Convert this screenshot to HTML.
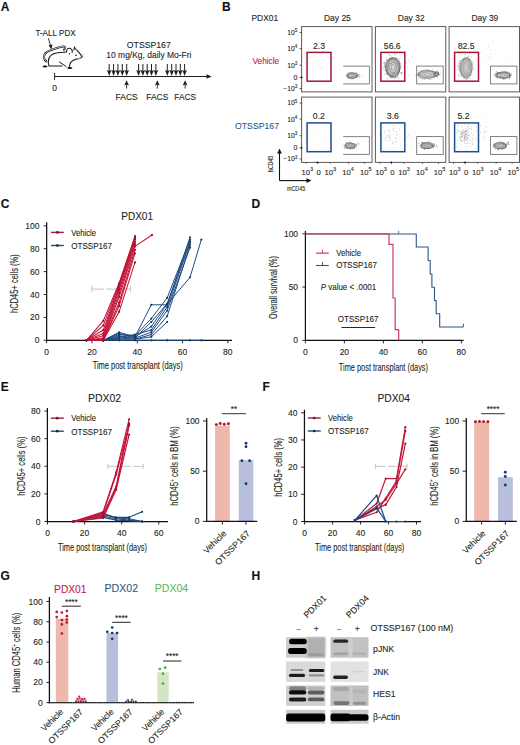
<!DOCTYPE html>
<html><head><meta charset="utf-8"><style>
html,body{margin:0;padding:0;background:#fff;}
svg{display:block;font-family:"Liberation Sans",sans-serif;}
text{stroke-width:0.1px;}
</style></head><body>
<svg width="520" height="745" viewBox="0 0 520 745" fill="#231f20">
<defs><radialGradient id="g0"><stop offset="0" stop-color="#ddd"/><stop offset="0.75" stop-color="#aaa"/><stop offset="1" stop-color="#555"/></radialGradient><radialGradient id="g1"><stop offset="0" stop-color="#dcdcdc"/><stop offset="0.75" stop-color="#a8a8a8"/><stop offset="1" stop-color="#5a5a5a"/></radialGradient><radialGradient id="g2"><stop offset="0" stop-color="#d8d8d8"/><stop offset="0.75" stop-color="#b4b4b4"/><stop offset="1" stop-color="#777"/></radialGradient><radialGradient id="g3"><stop offset="0" stop-color="#ccc"/><stop offset="0.75" stop-color="#999"/><stop offset="1" stop-color="#555"/></radialGradient><radialGradient id="g4"><stop offset="0" stop-color="#d8d8d8"/><stop offset="0.75" stop-color="#aaa"/><stop offset="1" stop-color="#888"/></radialGradient><radialGradient id="g5"><stop offset="0" stop-color="#e0e0e0"/><stop offset="0.75" stop-color="#bbb"/><stop offset="1" stop-color="#444"/></radialGradient><radialGradient id="g6"><stop offset="0" stop-color="#d4d4d4"/><stop offset="0.75" stop-color="#aaa"/><stop offset="1" stop-color="#555"/></radialGradient><radialGradient id="g7"><stop offset="0" stop-color="#d4d4d4"/><stop offset="0.75" stop-color="#aaa"/><stop offset="1" stop-color="#555"/></radialGradient><radialGradient id="g8"><stop offset="0" stop-color="#d8d8d8"/><stop offset="0.75" stop-color="#aaa"/><stop offset="1" stop-color="#555"/></radialGradient><filter id="bl" x="-20%" y="-60%" width="140%" height="220%"><feGaussianBlur stdDeviation="0.75"/></filter><filter id="bl2" x="-20%" y="-20%" width="140%" height="140%"><feGaussianBlur stdDeviation="0.8"/></filter></defs>
<rect width="520" height="745" fill="#fff"/>
<text x="0.80" y="11.00" font-size="12" fill="#111" font-weight="bold" stroke="#111">A</text>
<text x="35.40" y="35.70" font-size="8.8" textLength="40.40" lengthAdjust="spacingAndGlyphs" stroke="#231f20">T-ALL PDX</text>
<line x1="48.40" y1="38.20" x2="50.60" y2="46.20" stroke="#231f20" stroke-width="0.9"/>
<path d="M48.6,45.2 L51.3,49.6 L52.6,44.4 Z" fill="#231f20"/>
<path d="M64.0,49.6 C65.6,48.6 65.6,46.6 63.4,46.5 C60.4,46.4 57.4,48.0 53.5,49.2 C49.5,50.4 46.2,51.6 44.8,54.0 C43.5,56.4 44.0,59.6 46.4,61.4" fill="none" stroke="#1a1a1a" stroke-width="2.1" stroke-linecap="round"/>
<path d="M64.0,49.6 C65.6,48.6 65.6,46.6 63.4,46.5 C60.4,46.4 57.4,48.0 53.5,49.2 C49.5,50.4 46.2,51.6 44.8,54.0 C43.5,56.4 44.0,59.6 46.4,61.4" fill="none" stroke="#e4e4e4" stroke-width="0.8" stroke-linecap="round"/>
<path d="M48.6,59.6 C49.6,55.6 53.0,53.2 57.6,52.8 C61.2,52.5 64.2,52.3 66.6,52.0" fill="none" stroke="#1a1a1a" stroke-width="1.05"/>
<path d="M48.7,58.6 C48.1,61.5 48.3,64.2 49.0,66.0 L62.6,66.0" fill="none" stroke="#1a1a1a" stroke-width="1.05"/>
<path d="M66.6,52.4 C66.0,49.8 67.8,48.0 69.8,48.3 C71.6,48.7 72.6,50.6 72.1,52.8 M69.4,54.4 L69.6,53.2" fill="none" stroke="#1a1a1a" stroke-width="1.05"/>
<path d="M72.2,50.8 L73.6,49.9" fill="none" stroke="#1a1a1a" stroke-width="0.9"/>
<path d="M73.4,50.0 L74.4,46.0 L76.6,49.6 Z" fill="#1a1a1a"/>
<path d="M74.4,48.6 L75.4,48.6 L75.6,49.4 L74.2,49.4 Z" fill="#aaa"/>
<path d="M76.4,49.6 C78.6,51.8 80.8,54.6 82.2,56.8 C81.2,58.2 79.8,58.8 78.2,58.7 C75.6,59.0 72.6,60.0 70.8,62.4 C69.8,63.8 69.4,65.6 69.3,67.2" fill="none" stroke="#1a1a1a" stroke-width="1.05"/>
<path d="M76.6,58.2 L80.0,57.8 L79.4,59.0 Z" fill="#999"/>
<circle cx="76.00" cy="55.20" r="0.8" fill="#111"/>
<path d="M59.0,61.8 C61.6,63.4 64.2,65.2 66.4,66.6" fill="none" stroke="#1a1a1a" stroke-width="1.0"/>
<path d="M42.6,66.6 C43.0,65.2 46.6,65.2 47.4,66.4 C47.0,67.8 43.3,67.9 42.6,66.6 Z" fill="#111"/>
<path d="M67.2,68.0 C68.0,66.5 71.6,66.8 72.4,68.0 C71.6,69.4 68.0,69.4 67.2,68.0 Z" fill="#111"/>
<path d="M80.4,55.4 L83.8,54.6 M80.4,56.6 L83.8,57.4" fill="none" stroke="#777" stroke-width="0.4"/>
<line x1="54.60" y1="76.50" x2="208.00" y2="76.50" stroke="#231f20" stroke-width="1"/>
<path d="M206.5,74.2 L211.6,76.5 L206.5,78.8 Z" fill="#231f20"/>
<line x1="54.60" y1="73.00" x2="54.60" y2="79.80" stroke="#231f20" stroke-width="1"/>
<text x="54.60" y="90.80" font-size="8.6" text-anchor="middle" stroke="#231f20">0</text>
<text x="148.80" y="47.50" font-size="8.8" text-anchor="middle" textLength="44.00" lengthAdjust="spacingAndGlyphs" stroke="#231f20">OTSSP167</text>
<text x="148.90" y="58.30" font-size="8.8" text-anchor="middle" textLength="85.20" lengthAdjust="spacingAndGlyphs" stroke="#231f20">10 mg/Kg, daily Mo-Fri</text>
<line x1="109.20" y1="64.00" x2="109.20" y2="72.00" stroke="#231f20" stroke-width="1.0"/>
<path d="M106.90,70.0 L109.20,71.0 L111.50,70.0 L109.20,76.0 Z" fill="#231f20"/>
<line x1="113.60" y1="64.00" x2="113.60" y2="72.00" stroke="#231f20" stroke-width="1.0"/>
<path d="M111.30,70.0 L113.60,71.0 L115.90,70.0 L113.60,76.0 Z" fill="#231f20"/>
<line x1="117.90" y1="64.00" x2="117.90" y2="72.00" stroke="#231f20" stroke-width="1.0"/>
<path d="M115.60,70.0 L117.90,71.0 L120.20,70.0 L117.90,76.0 Z" fill="#231f20"/>
<line x1="122.30" y1="64.00" x2="122.30" y2="72.00" stroke="#231f20" stroke-width="1.0"/>
<path d="M120.00,70.0 L122.30,71.0 L124.60,70.0 L122.30,76.0 Z" fill="#231f20"/>
<line x1="126.70" y1="64.00" x2="126.70" y2="72.00" stroke="#231f20" stroke-width="1.0"/>
<path d="M124.40,70.0 L126.70,71.0 L129.00,70.0 L126.70,76.0 Z" fill="#231f20"/>
<line x1="138.60" y1="64.00" x2="138.60" y2="72.00" stroke="#231f20" stroke-width="1.0"/>
<path d="M136.30,70.0 L138.60,71.0 L140.90,70.0 L138.60,76.0 Z" fill="#231f20"/>
<line x1="142.90" y1="64.00" x2="142.90" y2="72.00" stroke="#231f20" stroke-width="1.0"/>
<path d="M140.60,70.0 L142.90,71.0 L145.20,70.0 L142.90,76.0 Z" fill="#231f20"/>
<line x1="147.20" y1="64.00" x2="147.20" y2="72.00" stroke="#231f20" stroke-width="1.0"/>
<path d="M144.90,70.0 L147.20,71.0 L149.50,70.0 L147.20,76.0 Z" fill="#231f20"/>
<line x1="151.50" y1="64.00" x2="151.50" y2="72.00" stroke="#231f20" stroke-width="1.0"/>
<path d="M149.20,70.0 L151.50,71.0 L153.80,70.0 L151.50,76.0 Z" fill="#231f20"/>
<line x1="155.90" y1="64.00" x2="155.90" y2="72.00" stroke="#231f20" stroke-width="1.0"/>
<path d="M153.60,70.0 L155.90,71.0 L158.20,70.0 L155.90,76.0 Z" fill="#231f20"/>
<line x1="167.30" y1="64.00" x2="167.30" y2="72.00" stroke="#231f20" stroke-width="1.0"/>
<path d="M165.00,70.0 L167.30,71.0 L169.60,70.0 L167.30,76.0 Z" fill="#231f20"/>
<line x1="171.70" y1="64.00" x2="171.70" y2="72.00" stroke="#231f20" stroke-width="1.0"/>
<path d="M169.40,70.0 L171.70,71.0 L174.00,70.0 L171.70,76.0 Z" fill="#231f20"/>
<line x1="176.00" y1="64.00" x2="176.00" y2="72.00" stroke="#231f20" stroke-width="1.0"/>
<path d="M173.70,70.0 L176.00,71.0 L178.30,70.0 L176.00,76.0 Z" fill="#231f20"/>
<line x1="180.30" y1="64.00" x2="180.30" y2="72.00" stroke="#231f20" stroke-width="1.0"/>
<path d="M178.00,70.0 L180.30,71.0 L182.60,70.0 L180.30,76.0 Z" fill="#231f20"/>
<line x1="184.60" y1="64.00" x2="184.60" y2="72.00" stroke="#231f20" stroke-width="1.0"/>
<path d="M182.30,70.0 L184.60,71.0 L186.90,70.0 L184.60,76.0 Z" fill="#231f20"/>
<line x1="126.60" y1="83.00" x2="126.60" y2="88.60" stroke="#231f20" stroke-width="0.9"/>
<path d="M124.20,85.6 L126.60,80.2 L129.00,85.6 L126.60,84.4 Z" fill="#231f20"/>
<line x1="157.30" y1="83.00" x2="157.30" y2="88.60" stroke="#231f20" stroke-width="0.9"/>
<path d="M154.90,85.6 L157.30,80.2 L159.70,85.6 L157.30,84.4 Z" fill="#231f20"/>
<line x1="185.10" y1="83.00" x2="185.10" y2="88.60" stroke="#231f20" stroke-width="0.9"/>
<path d="M182.70,85.6 L185.10,80.2 L187.50,85.6 L185.10,84.4 Z" fill="#231f20"/>
<text x="115.50" y="99.50" font-size="8.8" textLength="22.20" lengthAdjust="spacingAndGlyphs" stroke="#231f20">FACS</text>
<text x="146.20" y="99.50" font-size="8.8" textLength="22.20" lengthAdjust="spacingAndGlyphs" stroke="#231f20">FACS</text>
<text x="174.30" y="99.50" font-size="8.8" textLength="21.80" lengthAdjust="spacingAndGlyphs" stroke="#231f20">FACS</text>
<text x="222.00" y="10.80" font-size="12" fill="#111" font-weight="bold" stroke="#111">B</text>
<text x="251.50" y="20.50" font-size="8.6" textLength="26.70" lengthAdjust="spacingAndGlyphs" stroke="#231f20">PDX01</text>
<text x="337.40" y="20.50" font-size="8.7" text-anchor="middle" textLength="26.80" lengthAdjust="spacingAndGlyphs" stroke="#231f20">Day 25</text>
<text x="411.20" y="20.50" font-size="8.7" text-anchor="middle" textLength="26.80" lengthAdjust="spacingAndGlyphs" stroke="#231f20">Day 32</text>
<text x="484.90" y="20.50" font-size="8.7" text-anchor="middle" textLength="26.80" lengthAdjust="spacingAndGlyphs" stroke="#231f20">Day 39</text>
<text x="252.50" y="63.80" font-size="8.6" fill="#c0223f" textLength="26.70" lengthAdjust="spacingAndGlyphs" stroke="#c0223f">Vehicle</text>
<text x="235.00" y="129.00" font-size="8.6" fill="#2b5a8e" textLength="44.00" lengthAdjust="spacingAndGlyphs" stroke="#2b5a8e">OTSSP167</text>
<text x="297.40" y="34.90" font-size="6.8" text-anchor="end" stroke="#231f20">10<tspan dy="-2.7" font-size="4.60">5</tspan></text>
<text x="297.40" y="51.00" font-size="6.8" text-anchor="end" stroke="#231f20">10<tspan dy="-2.7" font-size="4.60">4</tspan></text>
<text x="297.40" y="67.60" font-size="6.8" text-anchor="end" stroke="#231f20">10<tspan dy="-2.7" font-size="4.60">3</tspan></text>
<text x="297.30" y="79.80" font-size="7.0" text-anchor="end" stroke="#231f20">0</text>
<text x="297.40" y="90.90" font-size="6.8" text-anchor="end" stroke="#231f20">−10<tspan dy="-2.7" font-size="4.60">3</tspan></text>
<rect x="301.60" y="26.60" width="70.40" height="65.30" fill="white" stroke="#5a5a5a" stroke-width="1.0"/>
<line x1="299.60" y1="32.50" x2="301.60" y2="32.50" stroke="#333" stroke-width="0.8"/>
<line x1="299.60" y1="48.60" x2="301.60" y2="48.60" stroke="#333" stroke-width="0.8"/>
<line x1="299.60" y1="65.20" x2="301.60" y2="65.20" stroke="#333" stroke-width="0.8"/>
<line x1="299.60" y1="77.30" x2="301.60" y2="77.30" stroke="#333" stroke-width="0.8"/>
<line x1="299.60" y1="88.50" x2="301.60" y2="88.50" stroke="#333" stroke-width="0.8"/>
<rect x="307.10" y="52.40" width="23.90" height="28.80" fill="none" stroke="#a6143a" stroke-width="1.5"/>
<polyline points="343.20,66.10 369.40,66.10 369.40,83.90 343.20,83.90" fill="none" stroke="#6d6d6d" stroke-width="0.85" stroke-linejoin="round"/>
<text x="312.90" y="48.70" font-size="8.7" stroke="#231f20">2.3</text>
<circle cx="317.83" cy="68.67" r="0.35" fill="#d0a8b0"/>
<circle cx="317.92" cy="63.71" r="0.35" fill="#d0a8b0"/>
<circle cx="315.81" cy="64.32" r="0.35" fill="#d0a8b0"/>
<circle cx="321.94" cy="68.14" r="0.35" fill="#d0a8b0"/>
<circle cx="321.71" cy="67.09" r="0.35" fill="#d0a8b0"/>
<circle cx="319.78" cy="66.71" r="0.35" fill="#d0a8b0"/>
<circle cx="313.60" cy="70.73" r="0.35" fill="#d0a8b0"/>
<circle cx="320.12" cy="68.59" r="0.35" fill="#d0a8b0"/>
<circle cx="313.53" cy="55.14" r="0.35" fill="#d0a8b0"/>
<circle cx="315.93" cy="62.79" r="0.35" fill="#d0a8b0"/>
<circle cx="319.52" cy="65.32" r="0.35" fill="#d0a8b0"/>
<circle cx="320.16" cy="61.75" r="0.35" fill="#d0a8b0"/>
<ellipse cx="352.10" cy="75.60" rx="5.50" ry="3.00" fill="url(#g0)" opacity="0.85"/>
<path d="M353.97,75.60 L353.99,75.88 L353.87,76.16 L353.31,76.26 L352.96,76.41 L352.54,76.49 L352.10,76.52 L351.62,76.58 L351.18,76.47 L350.77,76.33 L350.49,76.11 L350.30,75.86 L350.43,75.60 L350.56,75.37 L350.59,75.12 L350.80,74.89 L351.14,74.69 L351.56,74.49 L352.10,74.51 L352.55,74.69 L352.96,74.79 L353.27,74.96 L353.69,75.10 L353.96,75.33 L354.02,75.60Z" fill="none" stroke="#555" stroke-width="0.4"/>
<path d="M355.50,75.60 L355.81,76.14 L355.72,76.74 L354.75,77.05 L353.95,77.35 L352.92,77.27 L352.10,77.46 L351.19,77.46 L350.27,77.33 L349.19,77.19 L348.70,76.67 L348.17,76.17 L348.33,75.60 L348.73,75.11 L349.26,74.71 L349.57,74.22 L350.16,73.77 L351.10,73.56 L352.10,73.35 L353.06,73.65 L354.02,73.79 L354.60,74.24 L355.21,74.62 L355.54,75.10 L355.59,75.60Z" fill="none" stroke="#555" stroke-width="0.4"/>
<path d="M358.11,75.60 L356.97,76.31 L356.48,76.98 L355.39,77.40 L354.50,77.87 L353.43,78.31 L352.10,78.95 L350.62,78.62 L349.28,78.26 L348.30,77.67 L347.41,77.08 L347.67,76.25 L347.01,75.60 L346.71,74.81 L346.69,73.90 L347.62,73.16 L349.01,72.68 L350.74,72.82 L352.10,72.87 L353.35,73.06 L354.84,73.01 L356.30,73.31 L356.96,74.07 L357.67,74.79 L357.73,75.60Z" fill="none" stroke="#555" stroke-width="0.4"/>
<circle cx="352.73" cy="78.86" r="0.35" fill="#666"/>
<circle cx="347.53" cy="74.04" r="0.35" fill="#666"/>
<circle cx="357.93" cy="75.68" r="0.35" fill="#666"/>
<circle cx="347.85" cy="78.09" r="0.35" fill="#666"/>
<circle cx="358.39" cy="74.56" r="0.35" fill="#666"/>
<circle cx="345.76" cy="75.26" r="0.35" fill="#666"/>
<circle cx="349.94" cy="73.25" r="0.35" fill="#666"/>
<circle cx="357.61" cy="73.40" r="0.35" fill="#666"/>
<circle cx="356.94" cy="72.94" r="0.35" fill="#666"/>
<circle cx="347.60" cy="77.57" r="0.35" fill="#666"/>
<circle cx="357.21" cy="77.72" r="0.35" fill="#666"/>
<circle cx="356.59" cy="76.61" r="0.35" fill="#666"/>
<circle cx="353.41" cy="78.30" r="0.35" fill="#666"/>
<circle cx="349.52" cy="77.82" r="0.35" fill="#666"/>
<circle cx="357.19" cy="75.60" r="0.35" fill="#666"/>
<circle cx="356.66" cy="77.44" r="0.35" fill="#666"/>
<circle cx="359.09" cy="76.22" r="0.35" fill="#666"/>
<circle cx="348.27" cy="73.78" r="0.35" fill="#666"/>
<circle cx="352.02" cy="78.67" r="0.35" fill="#666"/>
<circle cx="348.80" cy="77.66" r="0.35" fill="#666"/>
<circle cx="356.41" cy="72.32" r="0.35" fill="#666"/>
<circle cx="346.23" cy="76.29" r="0.35" fill="#666"/>
<circle cx="356.35" cy="76.99" r="0.35" fill="#666"/>
<circle cx="349.13" cy="78.06" r="0.35" fill="#666"/>
<circle cx="354.53" cy="73.14" r="0.35" fill="#666"/>
<circle cx="361.52" cy="75.96" r="0.35" fill="#555"/>
<circle cx="357.93" cy="75.50" r="0.35" fill="#555"/>
<circle cx="358.33" cy="75.54" r="0.35" fill="#555"/>
<circle cx="355.33" cy="75.11" r="0.35" fill="#555"/>
<circle cx="359.81" cy="74.43" r="0.35" fill="#555"/>
<circle cx="358.52" cy="76.55" r="0.35" fill="#555"/>
<circle cx="359.63" cy="77.09" r="0.35" fill="#555"/>
<circle cx="356.56" cy="75.25" r="0.35" fill="#555"/>
<circle cx="301.60" cy="77.40" r="0.9" fill="#111"/>
<rect x="375.40" y="26.60" width="70.40" height="65.30" fill="white" stroke="#5a5a5a" stroke-width="1.0"/>
<rect x="380.90" y="52.40" width="23.90" height="28.80" fill="none" stroke="#a6143a" stroke-width="1.5"/>
<rect x="416.70" y="66.10" width="26.50" height="17.80" fill="none" stroke="#6d6d6d" stroke-width="0.85"/>
<text x="383.80" y="48.70" font-size="8.7" stroke="#231f20">56.6</text>
<ellipse cx="392.80" cy="67.40" rx="7.60" ry="10.20" fill="url(#g1)" opacity="0.85"/>
<path d="M394.78,67.40 L394.78,68.11 L394.49,68.71 L394.09,69.13 L393.71,69.52 L393.30,69.92 L392.80,70.17 L392.28,69.99 L391.76,69.81 L391.45,69.21 L391.36,68.52 L391.28,67.95 L391.13,67.40 L391.09,66.78 L391.03,66.02 L391.23,65.29 L391.77,65.02 L392.26,64.70 L392.80,64.77 L393.28,64.99 L393.65,65.43 L394.05,65.73 L394.45,66.12 L394.72,66.71 L394.78,67.40Z" fill="none" stroke="#5a5a5a" stroke-width="0.4"/>
<path d="M396.58,67.40 L396.30,68.66 L395.85,69.76 L395.55,71.09 L394.92,72.34 L393.82,72.49 L392.80,72.99 L391.75,72.65 L390.95,71.71 L390.27,70.79 L389.76,69.76 L389.32,68.65 L388.56,67.40 L388.86,65.98 L389.12,64.55 L389.91,63.52 L391.06,63.37 L391.93,63.04 L392.80,62.30 L393.82,62.30 L394.73,62.91 L395.60,63.65 L396.14,64.81 L396.71,65.99 L396.52,67.40Z" fill="none" stroke="#5a5a5a" stroke-width="0.4"/>
<path d="M399.25,67.40 L399.27,69.73 L398.16,71.55 L396.68,72.61 L395.45,73.55 L394.04,73.62 L392.80,73.99 L391.19,75.44 L389.66,74.71 L388.35,73.37 L387.22,71.72 L387.43,69.33 L387.21,67.40 L387.55,65.51 L388.39,63.98 L388.88,62.13 L389.82,60.47 L391.24,59.58 L392.80,59.18 L394.20,60.39 L395.39,61.39 L396.19,62.85 L397.76,63.56 L398.25,65.44 L398.91,67.40Z" fill="none" stroke="#5a5a5a" stroke-width="0.4"/>
<path d="M400.51,67.40 L399.34,69.75 L399.25,72.40 L398.04,74.43 L396.81,76.72 L394.96,78.24 L392.80,77.70 L390.80,77.41 L389.38,75.35 L388.37,73.34 L386.47,72.30 L386.04,69.83 L384.85,67.40 L384.49,64.41 L385.59,61.81 L387.44,60.20 L389.18,58.98 L391.01,58.41 L392.80,57.62 L394.59,58.43 L396.83,58.04 L398.48,59.78 L399.72,62.04 L400.65,64.58 L400.03,67.40Z" fill="none" stroke="#5a5a5a" stroke-width="0.4"/>
<circle cx="384.15" cy="62.66" r="0.35" fill="#555"/>
<circle cx="399.74" cy="61.69" r="0.35" fill="#555"/>
<circle cx="386.43" cy="60.09" r="0.35" fill="#555"/>
<circle cx="383.73" cy="66.47" r="0.35" fill="#555"/>
<circle cx="384.69" cy="70.76" r="0.35" fill="#555"/>
<circle cx="382.86" cy="69.25" r="0.35" fill="#555"/>
<circle cx="389.73" cy="54.92" r="0.35" fill="#555"/>
<circle cx="399.76" cy="63.85" r="0.35" fill="#555"/>
<circle cx="383.45" cy="62.48" r="0.35" fill="#555"/>
<circle cx="396.54" cy="59.49" r="0.35" fill="#555"/>
<circle cx="398.68" cy="74.96" r="0.35" fill="#555"/>
<circle cx="399.42" cy="71.76" r="0.35" fill="#555"/>
<circle cx="400.87" cy="72.76" r="0.35" fill="#555"/>
<circle cx="394.89" cy="54.46" r="0.35" fill="#555"/>
<circle cx="397.99" cy="77.57" r="0.35" fill="#555"/>
<circle cx="389.06" cy="59.46" r="0.35" fill="#555"/>
<circle cx="400.31" cy="58.27" r="0.35" fill="#555"/>
<circle cx="394.71" cy="80.68" r="0.35" fill="#555"/>
<circle cx="386.13" cy="74.06" r="0.35" fill="#555"/>
<circle cx="402.40" cy="66.58" r="0.35" fill="#555"/>
<circle cx="397.08" cy="76.63" r="0.35" fill="#555"/>
<circle cx="385.09" cy="66.38" r="0.35" fill="#555"/>
<circle cx="395.36" cy="77.10" r="0.35" fill="#555"/>
<circle cx="391.66" cy="58.76" r="0.35" fill="#555"/>
<circle cx="385.13" cy="63.76" r="0.35" fill="#555"/>
<circle cx="400.47" cy="68.57" r="0.35" fill="#555"/>
<circle cx="386.82" cy="59.48" r="0.35" fill="#555"/>
<circle cx="402.18" cy="72.78" r="0.35" fill="#555"/>
<circle cx="395.22" cy="54.17" r="0.35" fill="#555"/>
<circle cx="398.71" cy="73.53" r="0.35" fill="#555"/>
<circle cx="401.93" cy="70.51" r="0.35" fill="#555"/>
<circle cx="391.91" cy="76.65" r="0.35" fill="#555"/>
<circle cx="384.04" cy="73.65" r="0.35" fill="#555"/>
<circle cx="395.93" cy="58.33" r="0.35" fill="#555"/>
<circle cx="398.68" cy="78.18" r="0.35" fill="#555"/>
<circle cx="384.56" cy="62.15" r="0.35" fill="#555"/>
<circle cx="398.45" cy="72.18" r="0.35" fill="#555"/>
<circle cx="389.74" cy="57.37" r="0.35" fill="#555"/>
<circle cx="401.81" cy="73.31" r="0.35" fill="#555"/>
<circle cx="386.49" cy="57.86" r="0.35" fill="#555"/>
<circle cx="401.20" cy="73.95" r="0.35" fill="#555"/>
<circle cx="401.70" cy="72.71" r="0.35" fill="#555"/>
<circle cx="385.38" cy="70.38" r="0.35" fill="#555"/>
<circle cx="383.37" cy="63.02" r="0.35" fill="#555"/>
<circle cx="392.02" cy="76.67" r="0.35" fill="#555"/>
<circle cx="385.54" cy="65.74" r="0.35" fill="#555"/>
<circle cx="398.27" cy="73.43" r="0.35" fill="#555"/>
<circle cx="399.67" cy="70.42" r="0.35" fill="#555"/>
<circle cx="389.91" cy="76.86" r="0.35" fill="#555"/>
<circle cx="393.25" cy="57.27" r="0.35" fill="#555"/>
<circle cx="385.66" cy="67.39" r="0.35" fill="#555"/>
<circle cx="389.06" cy="74.58" r="0.35" fill="#555"/>
<circle cx="392.78" cy="76.15" r="0.35" fill="#555"/>
<circle cx="391.89" cy="55.98" r="0.35" fill="#555"/>
<circle cx="395.87" cy="77.70" r="0.35" fill="#555"/>
<circle cx="399.09" cy="63.72" r="0.35" fill="#555"/>
<circle cx="396.20" cy="57.53" r="0.35" fill="#555"/>
<circle cx="383.17" cy="67.81" r="0.35" fill="#555"/>
<circle cx="386.24" cy="74.40" r="0.35" fill="#555"/>
<circle cx="388.91" cy="54.75" r="0.35" fill="#555"/>
<circle cx="387.51" cy="78.19" r="0.35" fill="#555"/>
<circle cx="390.42" cy="55.92" r="0.35" fill="#555"/>
<circle cx="386.37" cy="73.29" r="0.35" fill="#555"/>
<circle cx="399.35" cy="70.53" r="0.35" fill="#555"/>
<circle cx="401.17" cy="72.75" r="0.35" fill="#555"/>
<circle cx="392.55" cy="76.90" r="0.35" fill="#555"/>
<circle cx="401.13" cy="73.96" r="0.35" fill="#555"/>
<circle cx="398.99" cy="58.61" r="0.35" fill="#555"/>
<circle cx="391.33" cy="77.11" r="0.35" fill="#555"/>
<circle cx="390.61" cy="78.01" r="0.35" fill="#555"/>
<ellipse cx="427.40" cy="74.40" rx="10.00" ry="4.10" fill="url(#g2)" opacity="0.85"/>
<path d="M430.98,74.40 L430.81,74.77 L430.66,75.17 L429.89,75.42 L428.94,75.49 L428.14,75.54 L427.40,75.79 L426.55,75.71 L425.63,75.66 L425.00,75.38 L424.41,75.11 L424.26,74.75 L424.34,74.40 L424.65,74.10 L424.67,73.75 L425.18,73.49 L425.66,73.16 L426.51,73.04 L427.40,72.98 L428.18,73.20 L428.80,73.41 L429.45,73.56 L430.00,73.78 L430.73,74.03 L431.03,74.40Z" fill="none" stroke="#777" stroke-width="0.4"/>
<path d="M433.57,74.40 L433.61,75.08 L433.52,75.85 L432.36,76.44 L430.97,76.94 L429.38,77.43 L427.40,76.98 L425.73,76.95 L424.32,76.58 L423.36,76.06 L421.32,75.84 L420.10,75.20 L419.93,74.40 L420.26,73.62 L421.34,72.97 L423.29,72.72 L424.39,72.26 L425.80,71.94 L427.40,71.52 L429.33,71.44 L431.24,71.67 L432.51,72.30 L433.54,72.95 L433.57,73.72 L433.61,74.40Z" fill="none" stroke="#777" stroke-width="0.4"/>
<path d="M437.64,74.40 L437.26,75.48 L435.98,76.43 L433.59,76.94 L432.17,77.79 L429.81,78.08 L427.40,78.53 L424.60,78.68 L421.76,78.41 L419.78,77.52 L419.32,76.31 L417.87,75.45 L417.99,74.40 L418.50,73.42 L418.80,72.36 L419.72,71.25 L422.25,70.74 L424.51,69.98 L427.40,70.41 L429.65,70.95 L431.72,71.33 L434.17,71.62 L435.54,72.47 L438.02,73.23 L439.15,74.40Z" fill="none" stroke="#777" stroke-width="0.4"/>
<circle cx="416.99" cy="74.56" r="0.35" fill="#666"/>
<circle cx="415.59" cy="75.04" r="0.35" fill="#666"/>
<circle cx="428.63" cy="69.68" r="0.35" fill="#666"/>
<circle cx="421.85" cy="71.55" r="0.35" fill="#666"/>
<circle cx="433.27" cy="77.60" r="0.35" fill="#666"/>
<circle cx="426.97" cy="70.29" r="0.35" fill="#666"/>
<circle cx="419.60" cy="72.95" r="0.35" fill="#666"/>
<circle cx="436.54" cy="75.90" r="0.35" fill="#666"/>
<circle cx="421.77" cy="70.07" r="0.35" fill="#666"/>
<circle cx="422.92" cy="70.76" r="0.35" fill="#666"/>
<circle cx="416.64" cy="73.94" r="0.35" fill="#666"/>
<circle cx="418.51" cy="75.18" r="0.35" fill="#666"/>
<circle cx="434.85" cy="71.99" r="0.35" fill="#666"/>
<circle cx="440.46" cy="73.66" r="0.35" fill="#666"/>
<circle cx="438.13" cy="74.89" r="0.35" fill="#666"/>
<circle cx="433.07" cy="69.45" r="0.35" fill="#666"/>
<circle cx="418.05" cy="75.66" r="0.35" fill="#666"/>
<circle cx="430.70" cy="79.65" r="0.35" fill="#666"/>
<circle cx="430.19" cy="78.94" r="0.35" fill="#666"/>
<circle cx="434.39" cy="77.94" r="0.35" fill="#666"/>
<circle cx="436.16" cy="73.30" r="0.35" fill="#666"/>
<circle cx="432.12" cy="70.31" r="0.35" fill="#666"/>
<circle cx="436.51" cy="71.19" r="0.35" fill="#666"/>
<circle cx="428.92" cy="79.69" r="0.35" fill="#666"/>
<circle cx="418.81" cy="74.71" r="0.35" fill="#666"/>
<circle cx="438.36" cy="74.50" r="0.35" fill="#666"/>
<circle cx="417.87" cy="75.65" r="0.35" fill="#666"/>
<circle cx="433.88" cy="77.64" r="0.35" fill="#666"/>
<circle cx="422.28" cy="79.17" r="0.35" fill="#666"/>
<circle cx="439.65" cy="74.45" r="0.35" fill="#666"/>
<circle cx="432.23" cy="71.24" r="0.35" fill="#666"/>
<circle cx="438.20" cy="72.19" r="0.35" fill="#666"/>
<circle cx="435.51" cy="72.03" r="0.35" fill="#666"/>
<circle cx="420.13" cy="77.49" r="0.35" fill="#666"/>
<circle cx="438.85" cy="74.36" r="0.35" fill="#666"/>
<circle cx="420.58" cy="77.75" r="0.35" fill="#666"/>
<circle cx="426.02" cy="77.94" r="0.35" fill="#666"/>
<circle cx="437.57" cy="77.50" r="0.35" fill="#666"/>
<circle cx="424.47" cy="79.67" r="0.35" fill="#666"/>
<circle cx="427.44" cy="78.43" r="0.35" fill="#666"/>
<circle cx="417.97" cy="74.13" r="0.35" fill="#666"/>
<circle cx="418.11" cy="78.29" r="0.35" fill="#666"/>
<circle cx="436.78" cy="70.98" r="0.35" fill="#666"/>
<circle cx="418.51" cy="70.47" r="0.35" fill="#666"/>
<circle cx="437.87" cy="72.72" r="0.35" fill="#666"/>
<circle cx="425.74" cy="70.88" r="0.35" fill="#666"/>
<circle cx="426.21" cy="70.02" r="0.35" fill="#666"/>
<circle cx="427.60" cy="69.59" r="0.35" fill="#666"/>
<circle cx="425.43" cy="77.89" r="0.35" fill="#666"/>
<circle cx="435.59" cy="72.74" r="0.35" fill="#666"/>
<ellipse cx="436.40" cy="74.10" rx="2.30" ry="2.30" fill="url(#g3)" opacity="0.85"/>
<path d="M437.54,74.10 L437.41,74.37 L437.34,74.64 L437.21,74.91 L436.94,75.04 L436.72,75.30 L436.40,75.33 L436.08,75.31 L435.82,75.10 L435.68,74.82 L435.56,74.59 L435.43,74.36 L435.20,74.10 L435.23,73.79 L435.35,73.49 L435.47,73.17 L435.77,73.01 L436.12,73.06 L436.40,73.13 L436.66,73.13 L436.93,73.19 L437.24,73.26 L437.43,73.51 L437.56,73.79 L437.53,74.10Z" fill="none" stroke="#555" stroke-width="0.4"/>
<path d="M438.75,74.10 L438.50,74.66 L438.18,75.13 L437.95,75.65 L437.60,76.18 L437.04,76.49 L436.40,76.55 L435.83,76.24 L435.34,75.94 L434.80,75.70 L434.71,75.08 L434.25,74.68 L433.96,74.10 L433.84,73.41 L434.32,72.90 L434.78,72.48 L435.34,72.27 L435.87,72.12 L436.40,72.03 L437.02,71.79 L437.66,71.91 L438.28,72.22 L438.42,72.93 L438.53,73.53 L438.68,74.10Z" fill="none" stroke="#555" stroke-width="0.4"/>
<circle cx="438.38" cy="72.58" r="0.35" fill="#555"/>
<circle cx="434.73" cy="73.08" r="0.35" fill="#555"/>
<circle cx="434.05" cy="76.00" r="0.35" fill="#555"/>
<circle cx="437.74" cy="71.49" r="0.35" fill="#555"/>
<circle cx="438.61" cy="73.71" r="0.35" fill="#555"/>
<circle cx="438.05" cy="75.45" r="0.35" fill="#555"/>
<circle cx="433.69" cy="73.72" r="0.35" fill="#555"/>
<circle cx="439.00" cy="73.10" r="0.35" fill="#555"/>
<circle cx="434.70" cy="71.83" r="0.35" fill="#555"/>
<circle cx="433.90" cy="74.79" r="0.35" fill="#555"/>
<circle cx="413.48" cy="62.61" r="0.35" fill="#aaa"/>
<circle cx="409.14" cy="75.24" r="0.35" fill="#aaa"/>
<circle cx="406.84" cy="54.88" r="0.35" fill="#aaa"/>
<circle cx="409.99" cy="63.44" r="0.35" fill="#aaa"/>
<circle cx="405.36" cy="51.41" r="0.35" fill="#aaa"/>
<circle cx="409.27" cy="61.33" r="0.35" fill="#aaa"/>
<circle cx="404.48" cy="58.18" r="0.35" fill="#aaa"/>
<circle cx="406.77" cy="62.82" r="0.35" fill="#aaa"/>
<circle cx="408.05" cy="59.00" r="0.35" fill="#aaa"/>
<circle cx="407.34" cy="66.97" r="0.35" fill="#aaa"/>
<circle cx="412.57" cy="57.03" r="0.35" fill="#aaa"/>
<circle cx="410.94" cy="54.30" r="0.35" fill="#aaa"/>
<circle cx="408.62" cy="64.85" r="0.35" fill="#aaa"/>
<circle cx="412.94" cy="56.92" r="0.35" fill="#aaa"/>
<circle cx="408.18" cy="60.97" r="0.35" fill="#aaa"/>
<circle cx="403.91" cy="59.71" r="0.35" fill="#aaa"/>
<circle cx="406.37" cy="62.20" r="0.35" fill="#aaa"/>
<circle cx="405.01" cy="45.76" r="0.35" fill="#aaa"/>
<rect x="449.10" y="26.60" width="70.40" height="65.30" fill="white" stroke="#5a5a5a" stroke-width="1.0"/>
<rect x="454.60" y="52.40" width="23.90" height="28.80" fill="none" stroke="#a6143a" stroke-width="1.5"/>
<rect x="490.40" y="66.10" width="26.50" height="17.80" fill="none" stroke="#6d6d6d" stroke-width="0.85"/>
<text x="457.70" y="48.70" font-size="8.7" stroke="#231f20">82.5</text>
<ellipse cx="465.90" cy="67.80" rx="6.60" ry="10.60" fill="url(#g4)" opacity="0.85"/>
<path d="M467.25,67.80 L467.24,68.38 L467.05,68.86 L466.80,69.25 L466.46,69.37 L466.23,69.78 L465.90,69.97 L465.54,69.97 L465.21,69.73 L464.82,69.53 L464.77,68.84 L464.64,68.34 L464.77,67.80 L464.78,67.32 L464.73,66.71 L464.94,66.26 L465.13,65.65 L465.53,65.59 L465.90,65.76 L466.21,65.96 L466.49,66.17 L466.78,66.38 L467.11,66.68 L467.18,67.25 L467.33,67.80Z" fill="none" stroke="#888" stroke-width="0.4"/>
<path d="M469.00,67.80 L468.52,68.93 L468.08,69.82 L467.54,70.43 L467.07,71.05 L466.57,71.81 L465.90,72.20 L465.16,72.26 L464.35,72.12 L463.75,71.26 L463.62,69.91 L463.61,68.78 L463.33,67.80 L463.47,66.75 L463.84,65.89 L463.89,64.57 L464.48,63.84 L465.17,63.44 L465.90,63.58 L466.51,64.14 L466.99,64.78 L467.54,65.16 L468.08,65.78 L468.77,66.57 L468.64,67.80Z" fill="none" stroke="#888" stroke-width="0.4"/>
<path d="M469.59,67.80 L469.84,69.50 L469.84,71.45 L469.08,72.91 L467.90,73.37 L466.80,73.18 L465.90,73.51 L464.98,73.30 L463.83,73.55 L463.09,72.31 L462.21,71.22 L461.51,69.69 L462.15,67.80 L462.33,66.26 L462.63,64.77 L463.22,63.49 L464.11,62.82 L464.90,61.79 L465.90,61.27 L467.08,60.72 L467.85,62.38 L468.66,63.36 L469.21,64.73 L469.30,66.34 L469.63,67.80Z" fill="none" stroke="#888" stroke-width="0.4"/>
<path d="M471.14,67.80 L471.06,70.02 L471.07,72.60 L469.85,74.14 L468.52,75.08 L467.09,74.94 L465.90,75.81 L464.56,75.82 L463.27,75.11 L461.72,74.52 L461.23,72.13 L460.57,70.09 L460.50,67.80 L460.68,65.55 L461.44,63.66 L462.56,62.43 L463.44,60.94 L464.48,59.30 L465.90,58.51 L467.48,58.34 L468.48,60.63 L469.63,61.81 L470.21,63.81 L470.82,65.68 L471.27,67.80Z" fill="none" stroke="#888" stroke-width="0.4"/>
<path d="M471.91,67.80 L471.46,70.19 L471.04,72.57 L470.72,75.55 L469.18,76.93 L467.70,78.56 L465.90,79.66 L464.24,77.74 L463.04,75.77 L462.04,73.99 L460.58,72.73 L459.77,70.44 L458.38,67.80 L458.50,64.62 L459.29,61.67 L461.36,60.50 L463.03,59.80 L464.47,59.24 L465.90,58.03 L467.65,57.33 L469.38,58.13 L470.83,59.88 L471.99,62.16 L472.47,64.97 L472.27,67.80Z" fill="none" stroke="#888" stroke-width="0.4"/>
<circle cx="465.79" cy="54.30" r="0.35" fill="#888"/>
<circle cx="462.82" cy="59.51" r="0.35" fill="#888"/>
<circle cx="469.46" cy="58.91" r="0.35" fill="#888"/>
<circle cx="459.65" cy="63.32" r="0.35" fill="#888"/>
<circle cx="465.43" cy="57.76" r="0.35" fill="#888"/>
<circle cx="466.00" cy="78.11" r="0.35" fill="#888"/>
<circle cx="470.77" cy="79.05" r="0.35" fill="#888"/>
<circle cx="460.01" cy="62.73" r="0.35" fill="#888"/>
<circle cx="458.84" cy="76.47" r="0.35" fill="#888"/>
<circle cx="459.53" cy="67.33" r="0.35" fill="#888"/>
<circle cx="468.69" cy="56.16" r="0.35" fill="#888"/>
<circle cx="471.84" cy="67.26" r="0.35" fill="#888"/>
<circle cx="457.69" cy="69.91" r="0.35" fill="#888"/>
<circle cx="470.55" cy="56.13" r="0.35" fill="#888"/>
<circle cx="472.27" cy="70.45" r="0.35" fill="#888"/>
<circle cx="470.47" cy="74.62" r="0.35" fill="#888"/>
<circle cx="473.33" cy="65.75" r="0.35" fill="#888"/>
<circle cx="472.09" cy="63.13" r="0.35" fill="#888"/>
<circle cx="470.63" cy="59.31" r="0.35" fill="#888"/>
<circle cx="465.39" cy="80.91" r="0.35" fill="#888"/>
<circle cx="471.52" cy="64.60" r="0.35" fill="#888"/>
<circle cx="459.60" cy="60.82" r="0.35" fill="#888"/>
<circle cx="467.28" cy="78.54" r="0.35" fill="#888"/>
<circle cx="469.86" cy="75.63" r="0.35" fill="#888"/>
<circle cx="465.67" cy="79.98" r="0.35" fill="#888"/>
<circle cx="462.26" cy="59.58" r="0.35" fill="#888"/>
<circle cx="472.57" cy="68.57" r="0.35" fill="#888"/>
<circle cx="463.19" cy="58.81" r="0.35" fill="#888"/>
<circle cx="463.51" cy="77.13" r="0.35" fill="#888"/>
<circle cx="467.98" cy="56.36" r="0.35" fill="#888"/>
<circle cx="471.38" cy="71.50" r="0.35" fill="#888"/>
<circle cx="460.02" cy="75.09" r="0.35" fill="#888"/>
<circle cx="462.11" cy="60.52" r="0.35" fill="#888"/>
<circle cx="469.98" cy="78.67" r="0.35" fill="#888"/>
<circle cx="460.38" cy="73.44" r="0.35" fill="#888"/>
<circle cx="462.80" cy="80.95" r="0.35" fill="#888"/>
<circle cx="463.04" cy="78.90" r="0.35" fill="#888"/>
<circle cx="461.54" cy="76.57" r="0.35" fill="#888"/>
<circle cx="471.75" cy="57.03" r="0.35" fill="#888"/>
<circle cx="461.80" cy="75.39" r="0.35" fill="#888"/>
<circle cx="465.04" cy="57.81" r="0.35" fill="#888"/>
<circle cx="474.48" cy="68.31" r="0.35" fill="#888"/>
<circle cx="458.52" cy="73.96" r="0.35" fill="#888"/>
<circle cx="458.81" cy="75.41" r="0.35" fill="#888"/>
<circle cx="459.94" cy="70.20" r="0.35" fill="#888"/>
<circle cx="473.30" cy="68.91" r="0.35" fill="#888"/>
<circle cx="460.44" cy="57.11" r="0.35" fill="#888"/>
<circle cx="472.40" cy="74.33" r="0.35" fill="#888"/>
<circle cx="460.89" cy="76.27" r="0.35" fill="#888"/>
<circle cx="469.88" cy="76.14" r="0.35" fill="#888"/>
<circle cx="457.31" cy="65.96" r="0.35" fill="#888"/>
<circle cx="471.50" cy="75.13" r="0.35" fill="#888"/>
<circle cx="468.87" cy="54.50" r="0.35" fill="#888"/>
<circle cx="467.86" cy="76.96" r="0.35" fill="#888"/>
<circle cx="474.17" cy="62.84" r="0.35" fill="#888"/>
<circle cx="460.15" cy="68.81" r="0.35" fill="#888"/>
<circle cx="472.06" cy="62.85" r="0.35" fill="#888"/>
<circle cx="472.21" cy="60.84" r="0.35" fill="#888"/>
<circle cx="468.67" cy="59.00" r="0.35" fill="#888"/>
<circle cx="467.32" cy="57.87" r="0.35" fill="#888"/>
<circle cx="458.97" cy="75.42" r="0.35" fill="#888"/>
<circle cx="468.87" cy="59.03" r="0.35" fill="#888"/>
<circle cx="467.28" cy="78.71" r="0.35" fill="#888"/>
<circle cx="459.07" cy="66.56" r="0.35" fill="#888"/>
<circle cx="470.50" cy="75.01" r="0.35" fill="#888"/>
<circle cx="464.55" cy="54.21" r="0.35" fill="#888"/>
<circle cx="473.12" cy="70.86" r="0.35" fill="#888"/>
<circle cx="466.17" cy="58.60" r="0.35" fill="#888"/>
<circle cx="469.06" cy="59.61" r="0.35" fill="#888"/>
<circle cx="459.88" cy="60.82" r="0.35" fill="#888"/>
<ellipse cx="503.10" cy="75.20" rx="7.50" ry="3.40" fill="url(#g5)" opacity="0.85"/>
<path d="M505.34,75.20 L505.24,75.46 L505.14,75.73 L504.85,75.99 L504.47,76.28 L503.81,76.39 L503.10,76.40 L502.50,76.21 L501.92,76.13 L501.51,75.92 L501.18,75.70 L500.58,75.51 L500.31,75.20 L500.46,74.88 L500.89,74.62 L501.34,74.40 L502.02,74.35 L502.56,74.28 L503.10,74.16 L503.71,74.18 L504.43,74.16 L505.05,74.32 L505.26,74.64 L505.56,74.90 L505.25,75.20Z" fill="none" stroke="#444" stroke-width="0.4"/>
<path d="M507.82,75.20 L507.56,75.74 L507.08,76.24 L506.86,76.90 L505.80,77.32 L504.59,77.72 L503.10,77.36 L501.81,77.38 L500.65,77.12 L499.71,76.74 L498.60,76.38 L498.20,75.79 L497.22,75.20 L497.90,74.57 L498.41,73.97 L499.55,73.59 L500.98,73.54 L501.85,73.08 L503.10,72.80 L504.39,73.03 L505.79,73.09 L507.06,73.41 L507.24,74.12 L507.93,74.61 L507.42,75.20Z" fill="none" stroke="#444" stroke-width="0.4"/>
<path d="M509.48,75.20 L510.08,76.05 L510.29,77.08 L508.65,77.72 L507.05,78.30 L505.11,78.61 L503.10,78.37 L501.48,77.94 L499.88,77.72 L498.28,77.39 L495.89,77.09 L494.97,76.19 L494.44,75.20 L495.97,74.33 L496.57,73.49 L498.62,73.17 L499.68,72.51 L501.19,71.96 L503.10,71.74 L505.34,71.41 L507.23,71.96 L508.67,72.68 L509.73,73.46 L509.21,74.46 L510.50,75.20Z" fill="none" stroke="#444" stroke-width="0.4"/>
<circle cx="497.72" cy="72.61" r="0.35" fill="#444"/>
<circle cx="505.27" cy="72.01" r="0.35" fill="#444"/>
<circle cx="511.62" cy="74.97" r="0.35" fill="#444"/>
<circle cx="497.20" cy="78.42" r="0.35" fill="#444"/>
<circle cx="496.52" cy="76.33" r="0.35" fill="#444"/>
<circle cx="502.84" cy="72.23" r="0.35" fill="#444"/>
<circle cx="506.21" cy="72.19" r="0.35" fill="#444"/>
<circle cx="496.65" cy="71.70" r="0.35" fill="#444"/>
<circle cx="495.50" cy="73.14" r="0.35" fill="#444"/>
<circle cx="500.65" cy="77.87" r="0.35" fill="#444"/>
<circle cx="509.88" cy="75.86" r="0.35" fill="#444"/>
<circle cx="497.14" cy="72.78" r="0.35" fill="#444"/>
<circle cx="493.40" cy="74.85" r="0.35" fill="#444"/>
<circle cx="507.98" cy="77.62" r="0.35" fill="#444"/>
<circle cx="499.41" cy="72.80" r="0.35" fill="#444"/>
<circle cx="510.81" cy="75.26" r="0.35" fill="#444"/>
<circle cx="509.15" cy="77.37" r="0.35" fill="#444"/>
<circle cx="504.48" cy="79.03" r="0.35" fill="#444"/>
<circle cx="497.05" cy="73.48" r="0.35" fill="#444"/>
<circle cx="497.29" cy="72.60" r="0.35" fill="#444"/>
<circle cx="509.65" cy="78.56" r="0.35" fill="#444"/>
<circle cx="503.38" cy="78.34" r="0.35" fill="#444"/>
<circle cx="510.33" cy="77.45" r="0.35" fill="#444"/>
<circle cx="509.53" cy="72.15" r="0.35" fill="#444"/>
<circle cx="497.09" cy="77.13" r="0.35" fill="#444"/>
<circle cx="511.87" cy="75.49" r="0.35" fill="#444"/>
<circle cx="495.99" cy="73.87" r="0.35" fill="#444"/>
<circle cx="498.20" cy="72.31" r="0.35" fill="#444"/>
<circle cx="511.52" cy="73.61" r="0.35" fill="#444"/>
<circle cx="503.19" cy="79.63" r="0.35" fill="#444"/>
<circle cx="500.95" cy="57.29" r="0.35" fill="#bbb"/>
<circle cx="482.98" cy="57.88" r="0.35" fill="#bbb"/>
<circle cx="505.32" cy="59.58" r="0.35" fill="#bbb"/>
<circle cx="501.72" cy="55.38" r="0.35" fill="#bbb"/>
<circle cx="494.26" cy="52.99" r="0.35" fill="#bbb"/>
<circle cx="493.37" cy="65.00" r="0.35" fill="#bbb"/>
<circle cx="474.79" cy="54.10" r="0.35" fill="#bbb"/>
<circle cx="491.50" cy="50.03" r="0.35" fill="#bbb"/>
<circle cx="486.02" cy="60.90" r="0.35" fill="#bbb"/>
<circle cx="509.12" cy="59.64" r="0.35" fill="#bbb"/>
<circle cx="492.36" cy="42.19" r="0.35" fill="#bbb"/>
<circle cx="508.38" cy="55.22" r="0.35" fill="#bbb"/>
<circle cx="488.76" cy="45.65" r="0.35" fill="#bbb"/>
<circle cx="488.53" cy="45.83" r="0.35" fill="#bbb"/>
<circle cx="489.81" cy="58.33" r="0.35" fill="#bbb"/>
<circle cx="489.41" cy="56.84" r="0.35" fill="#bbb"/>
<circle cx="480.58" cy="66.04" r="0.35" fill="#bbb"/>
<circle cx="482.57" cy="40.05" r="0.35" fill="#bbb"/>
<circle cx="487.22" cy="48.49" r="0.35" fill="#bbb"/>
<circle cx="479.00" cy="51.76" r="0.35" fill="#bbb"/>
<circle cx="492.01" cy="45.15" r="0.35" fill="#bbb"/>
<circle cx="487.72" cy="66.01" r="0.35" fill="#bbb"/>
<circle cx="495.93" cy="53.38" r="0.35" fill="#bbb"/>
<circle cx="490.38" cy="53.64" r="0.35" fill="#bbb"/>
<circle cx="488.62" cy="60.46" r="0.35" fill="#bbb"/>
<circle cx="488.17" cy="35.36" r="0.35" fill="#bbb"/>
<circle cx="488.88" cy="47.48" r="0.35" fill="#bbb"/>
<circle cx="495.61" cy="49.72" r="0.35" fill="#bbb"/>
<circle cx="490.58" cy="72.02" r="0.35" fill="#bbb"/>
<circle cx="478.63" cy="45.60" r="0.35" fill="#bbb"/>
<circle cx="474.98" cy="35.44" r="0.35" fill="#bbb"/>
<circle cx="470.32" cy="57.52" r="0.35" fill="#bbb"/>
<circle cx="482.72" cy="39.65" r="0.35" fill="#bbb"/>
<circle cx="474.27" cy="59.54" r="0.35" fill="#bbb"/>
<circle cx="481.35" cy="51.67" r="0.35" fill="#bbb"/>
<circle cx="492.40" cy="65.45" r="0.35" fill="#bbb"/>
<circle cx="508.51" cy="62.86" r="0.35" fill="#bbb"/>
<circle cx="490.54" cy="56.07" r="0.35" fill="#bbb"/>
<circle cx="507.12" cy="66.03" r="0.35" fill="#bbb"/>
<circle cx="485.99" cy="58.26" r="0.35" fill="#bbb"/>
<text x="297.40" y="105.40" font-size="6.8" text-anchor="end" stroke="#231f20">10<tspan dy="-2.7" font-size="4.60">5</tspan></text>
<text x="297.40" y="121.50" font-size="6.8" text-anchor="end" stroke="#231f20">10<tspan dy="-2.7" font-size="4.60">4</tspan></text>
<text x="297.40" y="138.10" font-size="6.8" text-anchor="end" stroke="#231f20">10<tspan dy="-2.7" font-size="4.60">3</tspan></text>
<text x="297.30" y="150.30" font-size="7.0" text-anchor="end" stroke="#231f20">0</text>
<text x="297.40" y="161.40" font-size="6.8" text-anchor="end" stroke="#231f20">−10<tspan dy="-2.7" font-size="4.60">3</tspan></text>
<rect x="301.60" y="97.10" width="70.40" height="65.30" fill="white" stroke="#5a5a5a" stroke-width="1.0"/>
<line x1="299.60" y1="103.00" x2="301.60" y2="103.00" stroke="#333" stroke-width="0.8"/>
<line x1="299.60" y1="119.10" x2="301.60" y2="119.10" stroke="#333" stroke-width="0.8"/>
<line x1="299.60" y1="135.70" x2="301.60" y2="135.70" stroke="#333" stroke-width="0.8"/>
<line x1="299.60" y1="147.80" x2="301.60" y2="147.80" stroke="#333" stroke-width="0.8"/>
<line x1="299.60" y1="159.00" x2="301.60" y2="159.00" stroke="#333" stroke-width="0.8"/>
<rect x="307.10" y="122.90" width="23.90" height="28.80" fill="none" stroke="#1f4f8a" stroke-width="1.5"/>
<polyline points="343.20,136.60 369.40,136.60 369.40,154.40 343.20,154.40" fill="none" stroke="#6d6d6d" stroke-width="0.85" stroke-linejoin="round"/>
<text x="312.80" y="119.20" font-size="8.7" stroke="#231f20">0.2</text>
<circle cx="320.46" cy="137.36" r="0.35" fill="#d8b8a8"/>
<circle cx="318.10" cy="130.47" r="0.35" fill="#d8b8a8"/>
<circle cx="318.00" cy="129.38" r="0.35" fill="#d8b8a8"/>
<circle cx="323.27" cy="139.78" r="0.35" fill="#d8b8a8"/>
<circle cx="315.98" cy="144.08" r="0.35" fill="#d8b8a8"/>
<circle cx="322.28" cy="127.56" r="0.35" fill="#d8b8a8"/>
<ellipse cx="350.10" cy="145.70" rx="5.50" ry="3.00" fill="url(#g6)" opacity="0.85"/>
<path d="M352.11,145.70 L352.15,146.00 L351.95,146.28 L351.36,146.39 L350.94,146.49 L350.50,146.52 L350.10,146.53 L349.62,146.68 L349.10,146.64 L348.66,146.49 L348.28,146.27 L348.23,145.97 L348.40,145.70 L348.61,145.48 L348.76,145.28 L348.80,144.99 L349.19,144.84 L349.60,144.67 L350.10,144.62 L350.56,144.77 L350.94,144.90 L351.23,145.08 L351.60,145.23 L351.77,145.46 L351.95,145.70Z" fill="none" stroke="#555" stroke-width="0.4"/>
<path d="M353.69,145.70 L354.03,146.27 L353.64,146.82 L352.72,147.13 L351.95,147.45 L350.99,147.51 L350.10,147.59 L349.25,147.42 L348.25,147.45 L347.35,147.20 L346.76,146.75 L346.05,146.29 L346.59,145.70 L346.56,145.18 L347.40,144.85 L347.93,144.52 L348.40,144.09 L349.06,143.59 L350.10,143.35 L351.05,143.76 L351.97,143.93 L352.55,144.36 L353.12,144.75 L353.16,145.25 L353.68,145.70Z" fill="none" stroke="#555" stroke-width="0.4"/>
<path d="M356.34,145.70 L355.30,146.46 L354.93,147.22 L353.47,147.54 L352.50,147.97 L351.54,148.64 L350.10,148.87 L348.63,148.70 L347.06,148.57 L346.40,147.72 L345.39,147.18 L345.14,146.42 L344.80,145.70 L344.77,144.92 L345.17,144.15 L345.89,143.40 L347.17,142.93 L348.56,142.57 L350.10,143.07 L351.47,142.91 L352.42,143.51 L353.74,143.72 L354.96,144.17 L356.28,144.80 L356.05,145.70Z" fill="none" stroke="#555" stroke-width="0.4"/>
<circle cx="344.94" cy="148.37" r="0.35" fill="#555"/>
<circle cx="350.71" cy="148.92" r="0.35" fill="#555"/>
<circle cx="343.48" cy="144.98" r="0.35" fill="#555"/>
<circle cx="350.22" cy="142.18" r="0.35" fill="#555"/>
<circle cx="346.87" cy="148.18" r="0.35" fill="#555"/>
<circle cx="354.02" cy="148.86" r="0.35" fill="#555"/>
<circle cx="346.58" cy="142.58" r="0.35" fill="#555"/>
<circle cx="352.95" cy="148.51" r="0.35" fill="#555"/>
<circle cx="351.02" cy="142.32" r="0.35" fill="#555"/>
<circle cx="354.28" cy="148.01" r="0.35" fill="#555"/>
<circle cx="354.10" cy="143.78" r="0.35" fill="#555"/>
<circle cx="352.08" cy="148.50" r="0.35" fill="#555"/>
<circle cx="348.07" cy="142.05" r="0.35" fill="#555"/>
<circle cx="352.98" cy="148.00" r="0.35" fill="#555"/>
<circle cx="350.18" cy="148.74" r="0.35" fill="#555"/>
<circle cx="345.03" cy="145.31" r="0.35" fill="#555"/>
<circle cx="347.65" cy="148.20" r="0.35" fill="#555"/>
<circle cx="356.70" cy="145.13" r="0.35" fill="#555"/>
<circle cx="355.97" cy="148.08" r="0.35" fill="#555"/>
<circle cx="354.70" cy="147.56" r="0.35" fill="#555"/>
<circle cx="356.93" cy="145.32" r="0.35" fill="#555"/>
<circle cx="349.48" cy="142.52" r="0.35" fill="#555"/>
<circle cx="352.23" cy="149.01" r="0.35" fill="#555"/>
<circle cx="354.20" cy="147.48" r="0.35" fill="#555"/>
<circle cx="346.46" cy="147.38" r="0.35" fill="#555"/>
<circle cx="344.58" cy="147.91" r="0.35" fill="#555"/>
<circle cx="347.99" cy="142.61" r="0.35" fill="#555"/>
<circle cx="346.09" cy="143.30" r="0.35" fill="#555"/>
<circle cx="354.08" cy="148.39" r="0.35" fill="#555"/>
<circle cx="344.55" cy="147.76" r="0.35" fill="#555"/>
<circle cx="358.93" cy="144.40" r="0.35" fill="#555"/>
<circle cx="355.37" cy="144.21" r="0.35" fill="#555"/>
<circle cx="356.65" cy="145.51" r="0.35" fill="#555"/>
<circle cx="357.06" cy="142.67" r="0.35" fill="#555"/>
<circle cx="357.95" cy="143.26" r="0.35" fill="#555"/>
<circle cx="358.96" cy="143.65" r="0.35" fill="#555"/>
<circle cx="356.56" cy="144.07" r="0.35" fill="#555"/>
<circle cx="356.79" cy="146.66" r="0.35" fill="#555"/>
<circle cx="301.60" cy="147.90" r="0.9" fill="#111"/>
<circle cx="317.60" cy="162.40" r="0.9" fill="#111"/>
<line x1="306.10" y1="162.40" x2="306.10" y2="164.00" stroke="#333" stroke-width="0.6"/>
<line x1="317.60" y1="162.40" x2="317.60" y2="164.00" stroke="#333" stroke-width="0.6"/>
<line x1="330.10" y1="162.40" x2="330.10" y2="164.00" stroke="#333" stroke-width="0.6"/>
<line x1="348.60" y1="162.40" x2="348.60" y2="164.00" stroke="#333" stroke-width="0.6"/>
<line x1="364.60" y1="162.40" x2="364.60" y2="164.00" stroke="#333" stroke-width="0.6"/>
<rect x="375.40" y="97.10" width="70.40" height="65.30" fill="white" stroke="#5a5a5a" stroke-width="1.0"/>
<rect x="380.90" y="122.90" width="23.90" height="28.80" fill="none" stroke="#1f4f8a" stroke-width="1.5"/>
<rect x="416.70" y="136.60" width="26.50" height="17.80" fill="none" stroke="#6d6d6d" stroke-width="0.85"/>
<text x="386.80" y="119.20" font-size="8.7" stroke="#231f20">3.6</text>
<circle cx="395.23" cy="137.41" r="0.33" fill="#777"/>
<circle cx="392.84" cy="125.59" r="0.33" fill="#777"/>
<circle cx="389.06" cy="131.07" r="0.33" fill="#777"/>
<circle cx="387.00" cy="136.90" r="0.33" fill="#777"/>
<circle cx="388.07" cy="130.20" r="0.33" fill="#777"/>
<circle cx="386.70" cy="122.78" r="0.33" fill="#777"/>
<circle cx="394.08" cy="141.42" r="0.33" fill="#777"/>
<circle cx="392.19" cy="128.73" r="0.33" fill="#777"/>
<circle cx="379.23" cy="135.05" r="0.33" fill="#777"/>
<circle cx="396.87" cy="135.73" r="0.33" fill="#777"/>
<circle cx="395.57" cy="142.23" r="0.33" fill="#777"/>
<circle cx="396.47" cy="131.67" r="0.33" fill="#777"/>
<circle cx="396.14" cy="138.37" r="0.33" fill="#777"/>
<circle cx="384.48" cy="131.87" r="0.33" fill="#777"/>
<circle cx="384.99" cy="133.50" r="0.33" fill="#777"/>
<circle cx="394.00" cy="128.23" r="0.33" fill="#777"/>
<circle cx="382.15" cy="141.24" r="0.33" fill="#777"/>
<circle cx="393.10" cy="142.19" r="0.33" fill="#777"/>
<circle cx="385.44" cy="139.93" r="0.33" fill="#777"/>
<circle cx="400.73" cy="145.14" r="0.33" fill="#777"/>
<circle cx="390.45" cy="135.58" r="0.33" fill="#777"/>
<circle cx="390.71" cy="139.59" r="0.33" fill="#777"/>
<circle cx="396.07" cy="134.58" r="0.33" fill="#777"/>
<circle cx="385.28" cy="138.18" r="0.33" fill="#777"/>
<circle cx="389.29" cy="137.56" r="0.33" fill="#777"/>
<circle cx="392.58" cy="143.03" r="0.33" fill="#777"/>
<circle cx="396.52" cy="131.62" r="0.33" fill="#777"/>
<circle cx="392.97" cy="143.80" r="0.33" fill="#777"/>
<circle cx="388.98" cy="136.48" r="0.33" fill="#777"/>
<circle cx="396.76" cy="141.01" r="0.33" fill="#777"/>
<circle cx="393.73" cy="126.84" r="0.33" fill="#777"/>
<circle cx="385.73" cy="135.46" r="0.33" fill="#777"/>
<circle cx="393.14" cy="148.11" r="0.33" fill="#777"/>
<circle cx="387.52" cy="140.36" r="0.33" fill="#777"/>
<circle cx="394.87" cy="124.91" r="0.33" fill="#777"/>
<circle cx="387.72" cy="135.01" r="0.33" fill="#777"/>
<circle cx="389.18" cy="133.25" r="0.33" fill="#777"/>
<circle cx="393.52" cy="129.65" r="0.33" fill="#777"/>
<circle cx="393.50" cy="130.60" r="0.33" fill="#777"/>
<circle cx="388.95" cy="137.05" r="0.33" fill="#777"/>
<circle cx="388.82" cy="135.68" r="0.33" fill="#777"/>
<circle cx="398.60" cy="134.25" r="0.33" fill="#777"/>
<circle cx="390.74" cy="138.14" r="0.33" fill="#777"/>
<circle cx="389.75" cy="140.06" r="0.33" fill="#777"/>
<circle cx="385.63" cy="137.50" r="0.33" fill="#777"/>
<circle cx="389.10" cy="129.71" r="0.33" fill="#777"/>
<circle cx="399.36" cy="129.42" r="0.33" fill="#777"/>
<circle cx="399.31" cy="137.72" r="0.33" fill="#777"/>
<circle cx="397.94" cy="128.73" r="0.33" fill="#777"/>
<circle cx="396.80" cy="142.11" r="0.33" fill="#777"/>
<ellipse cx="426.90" cy="145.70" rx="6.50" ry="3.20" fill="url(#g7)" opacity="0.85"/>
<path d="M428.74,145.70 L428.62,145.93 L428.79,146.24 L428.48,146.48 L428.02,146.66 L427.48,146.77 L426.90,146.78 L426.37,146.68 L425.85,146.60 L425.56,146.36 L425.25,146.17 L424.66,146.00 L424.47,145.70 L424.71,145.41 L424.78,145.10 L425.35,144.94 L425.85,144.80 L426.38,144.74 L426.90,144.64 L427.49,144.62 L428.12,144.66 L428.51,144.91 L428.96,145.11 L428.99,145.42 L428.99,145.70Z" fill="none" stroke="#555" stroke-width="0.4"/>
<path d="M431.66,145.70 L430.96,146.24 L430.16,146.63 L429.55,147.01 L428.86,147.37 L428.06,147.84 L426.90,147.88 L425.68,147.94 L424.77,147.51 L423.96,147.15 L423.50,146.67 L423.07,146.20 L422.48,145.70 L422.88,145.17 L422.60,144.48 L423.57,144.06 L424.63,143.76 L425.79,143.66 L426.90,143.65 L427.90,143.87 L428.96,143.95 L430.31,144.02 L430.75,144.61 L431.56,145.08 L431.49,145.70Z" fill="none" stroke="#555" stroke-width="0.4"/>
<path d="M433.63,145.70 L433.88,146.62 L433.47,147.57 L431.63,148.03 L430.34,148.64 L428.45,148.54 L426.90,148.58 L425.21,148.81 L423.83,148.31 L421.77,148.23 L420.60,147.49 L420.43,146.55 L420.14,145.70 L421.27,144.96 L421.85,144.26 L422.55,143.56 L423.45,142.76 L425.16,142.50 L426.90,142.22 L428.66,142.47 L430.12,142.95 L431.36,143.50 L431.79,144.31 L433.15,144.88 L433.42,145.70Z" fill="none" stroke="#555" stroke-width="0.4"/>
<circle cx="420.49" cy="145.63" r="0.35" fill="#555"/>
<circle cx="418.21" cy="145.53" r="0.35" fill="#555"/>
<circle cx="422.33" cy="142.41" r="0.35" fill="#555"/>
<circle cx="423.71" cy="148.52" r="0.35" fill="#555"/>
<circle cx="424.64" cy="149.18" r="0.35" fill="#555"/>
<circle cx="421.55" cy="142.72" r="0.35" fill="#555"/>
<circle cx="434.53" cy="146.67" r="0.35" fill="#555"/>
<circle cx="432.39" cy="143.33" r="0.35" fill="#555"/>
<circle cx="433.09" cy="146.68" r="0.35" fill="#555"/>
<circle cx="433.04" cy="145.82" r="0.35" fill="#555"/>
<circle cx="433.51" cy="143.95" r="0.35" fill="#555"/>
<circle cx="422.48" cy="142.36" r="0.35" fill="#555"/>
<circle cx="433.24" cy="143.71" r="0.35" fill="#555"/>
<circle cx="421.28" cy="143.21" r="0.35" fill="#555"/>
<circle cx="424.43" cy="142.23" r="0.35" fill="#555"/>
<circle cx="424.29" cy="142.92" r="0.35" fill="#555"/>
<circle cx="423.41" cy="142.71" r="0.35" fill="#555"/>
<circle cx="427.37" cy="142.83" r="0.35" fill="#555"/>
<circle cx="429.26" cy="148.22" r="0.35" fill="#555"/>
<circle cx="428.20" cy="141.57" r="0.35" fill="#555"/>
<circle cx="423.15" cy="142.95" r="0.35" fill="#555"/>
<circle cx="430.46" cy="142.13" r="0.35" fill="#555"/>
<circle cx="421.01" cy="144.51" r="0.35" fill="#555"/>
<circle cx="424.69" cy="148.91" r="0.35" fill="#555"/>
<circle cx="424.01" cy="148.80" r="0.35" fill="#555"/>
<circle cx="421.52" cy="142.42" r="0.35" fill="#555"/>
<circle cx="433.84" cy="146.92" r="0.35" fill="#555"/>
<circle cx="432.63" cy="146.41" r="0.35" fill="#555"/>
<circle cx="429.64" cy="142.32" r="0.35" fill="#555"/>
<circle cx="432.98" cy="144.02" r="0.35" fill="#555"/>
<circle cx="433.66" cy="146.00" r="0.35" fill="#555"/>
<circle cx="419.72" cy="143.39" r="0.35" fill="#555"/>
<circle cx="433.92" cy="145.28" r="0.35" fill="#555"/>
<circle cx="421.91" cy="147.21" r="0.35" fill="#555"/>
<circle cx="423.08" cy="143.29" r="0.35" fill="#555"/>
<circle cx="434.55" cy="145.27" r="0.35" fill="#444"/>
<circle cx="436.68" cy="145.15" r="0.35" fill="#444"/>
<circle cx="437.22" cy="147.26" r="0.35" fill="#444"/>
<circle cx="436.97" cy="146.37" r="0.35" fill="#444"/>
<circle cx="434.60" cy="145.26" r="0.35" fill="#444"/>
<circle cx="434.19" cy="144.22" r="0.35" fill="#444"/>
<circle cx="434.30" cy="144.33" r="0.35" fill="#444"/>
<circle cx="436.86" cy="145.74" r="0.35" fill="#444"/>
<circle cx="406.61" cy="125.61" r="0.35" fill="#aaa"/>
<circle cx="408.19" cy="134.60" r="0.35" fill="#aaa"/>
<circle cx="404.06" cy="130.28" r="0.35" fill="#aaa"/>
<circle cx="399.40" cy="140.51" r="0.35" fill="#aaa"/>
<circle cx="408.14" cy="152.59" r="0.35" fill="#aaa"/>
<circle cx="408.28" cy="136.21" r="0.35" fill="#aaa"/>
<circle cx="414.18" cy="137.90" r="0.35" fill="#aaa"/>
<circle cx="409.07" cy="134.87" r="0.35" fill="#aaa"/>
<circle cx="405.98" cy="146.10" r="0.35" fill="#aaa"/>
<circle cx="412.40" cy="147.40" r="0.35" fill="#aaa"/>
<circle cx="407.00" cy="137.28" r="0.35" fill="#aaa"/>
<circle cx="404.88" cy="142.90" r="0.35" fill="#aaa"/>
<circle cx="402.83" cy="140.49" r="0.35" fill="#aaa"/>
<circle cx="412.78" cy="145.57" r="0.35" fill="#aaa"/>
<circle cx="404.64" cy="143.64" r="0.35" fill="#aaa"/>
<circle cx="405.55" cy="132.56" r="0.35" fill="#aaa"/>
<circle cx="403.11" cy="144.03" r="0.35" fill="#aaa"/>
<circle cx="414.99" cy="133.53" r="0.35" fill="#aaa"/>
<circle cx="405.36" cy="135.07" r="0.35" fill="#aaa"/>
<circle cx="418.43" cy="143.13" r="0.35" fill="#aaa"/>
<circle cx="391.40" cy="162.40" r="0.9" fill="#111"/>
<line x1="379.90" y1="162.40" x2="379.90" y2="164.00" stroke="#333" stroke-width="0.6"/>
<line x1="391.40" y1="162.40" x2="391.40" y2="164.00" stroke="#333" stroke-width="0.6"/>
<line x1="403.90" y1="162.40" x2="403.90" y2="164.00" stroke="#333" stroke-width="0.6"/>
<line x1="422.40" y1="162.40" x2="422.40" y2="164.00" stroke="#333" stroke-width="0.6"/>
<line x1="438.40" y1="162.40" x2="438.40" y2="164.00" stroke="#333" stroke-width="0.6"/>
<rect x="449.10" y="97.10" width="70.40" height="65.30" fill="white" stroke="#5a5a5a" stroke-width="1.0"/>
<rect x="454.60" y="122.90" width="23.90" height="28.80" fill="none" stroke="#1f4f8a" stroke-width="1.5"/>
<rect x="490.40" y="136.60" width="26.50" height="17.80" fill="none" stroke="#6d6d6d" stroke-width="0.85"/>
<text x="457.40" y="119.20" font-size="8.7" stroke="#231f20">5.2</text>
<circle cx="462.43" cy="126.99" r="0.33" fill="#666"/>
<circle cx="461.91" cy="141.30" r="0.33" fill="#666"/>
<circle cx="472.07" cy="134.32" r="0.33" fill="#666"/>
<circle cx="461.83" cy="133.15" r="0.33" fill="#666"/>
<circle cx="457.06" cy="139.96" r="0.33" fill="#666"/>
<circle cx="460.26" cy="140.70" r="0.33" fill="#666"/>
<circle cx="457.77" cy="129.50" r="0.33" fill="#666"/>
<circle cx="465.75" cy="131.93" r="0.33" fill="#666"/>
<circle cx="467.73" cy="135.64" r="0.33" fill="#666"/>
<circle cx="459.90" cy="138.59" r="0.33" fill="#666"/>
<circle cx="467.97" cy="126.42" r="0.33" fill="#666"/>
<circle cx="471.90" cy="137.99" r="0.33" fill="#666"/>
<circle cx="467.64" cy="126.67" r="0.33" fill="#666"/>
<circle cx="461.72" cy="133.92" r="0.33" fill="#666"/>
<circle cx="468.91" cy="128.59" r="0.33" fill="#666"/>
<circle cx="461.06" cy="125.86" r="0.33" fill="#666"/>
<circle cx="463.64" cy="137.26" r="0.33" fill="#666"/>
<circle cx="457.86" cy="132.76" r="0.33" fill="#666"/>
<circle cx="466.64" cy="143.21" r="0.33" fill="#666"/>
<circle cx="467.26" cy="134.14" r="0.33" fill="#666"/>
<circle cx="459.89" cy="131.11" r="0.33" fill="#666"/>
<circle cx="461.94" cy="136.31" r="0.33" fill="#666"/>
<circle cx="464.40" cy="143.60" r="0.33" fill="#666"/>
<circle cx="465.75" cy="130.46" r="0.33" fill="#666"/>
<circle cx="470.78" cy="140.16" r="0.33" fill="#666"/>
<circle cx="465.00" cy="132.14" r="0.33" fill="#666"/>
<circle cx="457.12" cy="130.69" r="0.33" fill="#666"/>
<circle cx="468.25" cy="131.75" r="0.33" fill="#666"/>
<circle cx="459.32" cy="136.54" r="0.33" fill="#666"/>
<circle cx="465.58" cy="138.51" r="0.33" fill="#666"/>
<circle cx="467.22" cy="142.36" r="0.33" fill="#666"/>
<circle cx="461.24" cy="140.30" r="0.33" fill="#666"/>
<circle cx="460.65" cy="138.93" r="0.33" fill="#666"/>
<circle cx="465.32" cy="136.77" r="0.33" fill="#666"/>
<circle cx="468.47" cy="135.52" r="0.33" fill="#666"/>
<circle cx="469.05" cy="139.80" r="0.33" fill="#666"/>
<circle cx="465.14" cy="132.88" r="0.33" fill="#666"/>
<circle cx="461.59" cy="133.07" r="0.33" fill="#666"/>
<circle cx="463.79" cy="135.48" r="0.33" fill="#666"/>
<circle cx="476.52" cy="138.66" r="0.33" fill="#666"/>
<circle cx="467.68" cy="131.47" r="0.33" fill="#666"/>
<circle cx="461.76" cy="134.07" r="0.33" fill="#666"/>
<circle cx="465.37" cy="130.63" r="0.33" fill="#666"/>
<circle cx="471.05" cy="132.90" r="0.33" fill="#666"/>
<circle cx="468.91" cy="124.39" r="0.33" fill="#666"/>
<circle cx="464.57" cy="136.93" r="0.33" fill="#666"/>
<circle cx="465.37" cy="138.49" r="0.33" fill="#666"/>
<circle cx="465.72" cy="136.38" r="0.33" fill="#666"/>
<circle cx="457.03" cy="132.18" r="0.33" fill="#666"/>
<circle cx="455.23" cy="138.62" r="0.33" fill="#666"/>
<circle cx="465.83" cy="134.66" r="0.33" fill="#666"/>
<circle cx="461.31" cy="132.81" r="0.33" fill="#666"/>
<circle cx="471.98" cy="143.91" r="0.33" fill="#666"/>
<circle cx="464.37" cy="141.78" r="0.33" fill="#666"/>
<circle cx="458.25" cy="126.31" r="0.33" fill="#666"/>
<circle cx="462.67" cy="131.40" r="0.33" fill="#666"/>
<circle cx="462.36" cy="136.50" r="0.33" fill="#666"/>
<circle cx="476.70" cy="132.43" r="0.33" fill="#666"/>
<circle cx="464.80" cy="136.93" r="0.33" fill="#666"/>
<circle cx="464.46" cy="140.07" r="0.33" fill="#666"/>
<circle cx="471.70" cy="129.63" r="0.33" fill="#666"/>
<circle cx="465.25" cy="134.33" r="0.33" fill="#666"/>
<circle cx="466.03" cy="128.25" r="0.33" fill="#666"/>
<circle cx="457.57" cy="124.48" r="0.33" fill="#666"/>
<circle cx="466.70" cy="136.52" r="0.33" fill="#666"/>
<circle cx="464.89" cy="124.24" r="0.33" fill="#666"/>
<circle cx="463.11" cy="131.97" r="0.33" fill="#666"/>
<circle cx="458.95" cy="131.21" r="0.33" fill="#666"/>
<circle cx="467.39" cy="138.21" r="0.33" fill="#666"/>
<circle cx="464.51" cy="138.07" r="0.33" fill="#666"/>
<circle cx="462.19" cy="135.94" r="0.33" fill="#666"/>
<circle cx="464.76" cy="138.26" r="0.33" fill="#666"/>
<circle cx="464.32" cy="134.91" r="0.33" fill="#666"/>
<circle cx="464.06" cy="132.50" r="0.33" fill="#666"/>
<circle cx="473.53" cy="138.07" r="0.33" fill="#666"/>
<circle cx="466.32" cy="146.60" r="0.33" fill="#666"/>
<circle cx="470.21" cy="128.13" r="0.33" fill="#666"/>
<circle cx="467.38" cy="139.62" r="0.33" fill="#666"/>
<circle cx="472.14" cy="141.92" r="0.33" fill="#666"/>
<circle cx="467.68" cy="129.95" r="0.33" fill="#666"/>
<circle cx="461.12" cy="136.89" r="0.33" fill="#666"/>
<circle cx="466.62" cy="130.70" r="0.33" fill="#666"/>
<circle cx="463.06" cy="133.68" r="0.33" fill="#666"/>
<circle cx="464.84" cy="137.21" r="0.33" fill="#666"/>
<circle cx="463.45" cy="129.66" r="0.33" fill="#666"/>
<circle cx="469.57" cy="143.26" r="0.33" fill="#666"/>
<circle cx="464.18" cy="140.52" r="0.33" fill="#666"/>
<circle cx="466.38" cy="138.77" r="0.33" fill="#666"/>
<circle cx="466.53" cy="131.94" r="0.33" fill="#666"/>
<circle cx="466.90" cy="140.45" r="0.33" fill="#666"/>
<circle cx="461.01" cy="145.04" r="0.33" fill="#666"/>
<circle cx="472.96" cy="144.35" r="0.33" fill="#666"/>
<circle cx="472.56" cy="139.16" r="0.33" fill="#666"/>
<circle cx="463.25" cy="132.72" r="0.33" fill="#666"/>
<circle cx="461.35" cy="136.16" r="0.33" fill="#666"/>
<circle cx="464.47" cy="138.82" r="0.33" fill="#666"/>
<circle cx="456.52" cy="146.70" r="0.33" fill="#666"/>
<circle cx="473.71" cy="135.47" r="0.33" fill="#666"/>
<circle cx="467.30" cy="137.88" r="0.33" fill="#666"/>
<circle cx="465.69" cy="134.60" r="0.33" fill="#666"/>
<circle cx="464.11" cy="131.64" r="0.33" fill="#666"/>
<circle cx="465.31" cy="135.48" r="0.33" fill="#666"/>
<circle cx="465.88" cy="131.50" r="0.33" fill="#666"/>
<circle cx="464.76" cy="135.83" r="0.33" fill="#666"/>
<circle cx="467.02" cy="130.50" r="0.33" fill="#666"/>
<circle cx="466.28" cy="140.32" r="0.33" fill="#666"/>
<circle cx="466.99" cy="133.83" r="0.33" fill="#666"/>
<circle cx="462.63" cy="134.47" r="0.33" fill="#666"/>
<circle cx="467.52" cy="143.05" r="0.33" fill="#666"/>
<circle cx="463.97" cy="132.51" r="0.33" fill="#666"/>
<path d="M466.79,135.60 L467.14,136.36 L466.80,137.01 L466.17,137.35 L465.57,137.46 L465.11,137.73 L464.60,137.90 L464.00,138.09 L463.37,137.96 L462.89,137.50 L462.60,136.88 L462.21,136.31 L462.56,135.60 L462.62,135.01 L463.12,134.65 L462.96,133.78 L463.44,133.37 L463.89,132.64 L464.60,132.55 L465.21,133.09 L465.51,133.84 L466.12,133.91 L466.28,134.52 L466.87,134.92 L466.88,135.60Z" fill="none" stroke="#999" stroke-width="0.3"/>
<path d="M470.08,135.60 L469.41,137.03 L468.41,138.04 L467.51,138.83 L466.59,139.43 L465.46,139.18 L464.60,140.33 L463.39,140.64 L462.03,140.54 L461.26,139.31 L460.27,138.38 L460.17,136.92 L460.33,135.60 L461.04,134.54 L460.73,133.12 L461.33,131.97 L461.90,130.41 L463.40,130.61 L464.60,129.86 L465.83,130.51 L466.54,131.87 L467.35,132.55 L468.30,133.23 L469.23,134.22 L469.20,135.60Z" fill="none" stroke="#999" stroke-width="0.3"/>
<ellipse cx="500.10" cy="145.70" rx="6.20" ry="3.40" fill="url(#g8)" opacity="0.85"/>
<path d="M502.03,145.70 L502.10,145.99 L501.95,146.29 L501.63,146.54 L501.21,146.75 L500.57,146.65 L500.10,146.65 L499.59,146.74 L499.14,146.61 L498.67,146.48 L498.11,146.33 L497.91,146.02 L497.98,145.70 L498.15,145.41 L498.60,145.22 L498.67,144.92 L499.05,144.70 L499.57,144.63 L500.10,144.52 L500.68,144.51 L501.15,144.70 L501.43,144.97 L501.61,145.22 L501.90,145.44 L502.00,145.70Z" fill="none" stroke="#555" stroke-width="0.4"/>
<path d="M504.25,145.70 L503.48,146.20 L503.42,146.75 L503.08,147.33 L502.17,147.66 L501.33,148.22 L500.10,148.32 L499.03,147.90 L498.17,147.53 L497.30,147.23 L496.81,146.74 L496.26,146.26 L495.45,145.70 L495.54,145.03 L496.31,144.50 L497.24,144.13 L498.20,143.90 L499.15,143.75 L500.10,143.45 L501.20,143.45 L502.42,143.50 L503.46,143.86 L504.18,144.41 L503.89,145.14 L504.02,145.70Z" fill="none" stroke="#555" stroke-width="0.4"/>
<path d="M506.57,145.70 L506.14,146.59 L505.92,147.54 L504.96,148.36 L503.21,148.66 L501.63,148.84 L500.10,148.54 L498.65,148.66 L497.08,148.57 L495.84,148.04 L494.52,147.47 L493.14,146.72 L493.46,145.70 L493.99,144.80 L495.13,144.13 L495.88,143.39 L496.89,142.65 L498.32,142.05 L500.10,142.23 L501.88,142.06 L503.17,142.79 L504.39,143.35 L504.76,144.23 L505.61,144.89 L506.56,145.70Z" fill="none" stroke="#555" stroke-width="0.4"/>
<circle cx="495.72" cy="143.41" r="0.35" fill="#555"/>
<circle cx="493.54" cy="145.24" r="0.35" fill="#555"/>
<circle cx="505.97" cy="144.67" r="0.35" fill="#555"/>
<circle cx="497.62" cy="149.45" r="0.35" fill="#555"/>
<circle cx="505.27" cy="148.38" r="0.35" fill="#555"/>
<circle cx="506.70" cy="144.67" r="0.35" fill="#555"/>
<circle cx="499.32" cy="149.36" r="0.35" fill="#555"/>
<circle cx="494.50" cy="145.04" r="0.35" fill="#555"/>
<circle cx="504.14" cy="147.89" r="0.35" fill="#555"/>
<circle cx="498.33" cy="149.15" r="0.35" fill="#555"/>
<circle cx="498.66" cy="148.91" r="0.35" fill="#555"/>
<circle cx="506.03" cy="147.70" r="0.35" fill="#555"/>
<circle cx="503.93" cy="142.38" r="0.35" fill="#555"/>
<circle cx="493.51" cy="143.99" r="0.35" fill="#555"/>
<circle cx="502.36" cy="149.61" r="0.35" fill="#555"/>
<circle cx="493.34" cy="146.63" r="0.35" fill="#555"/>
<circle cx="495.00" cy="143.30" r="0.35" fill="#555"/>
<circle cx="497.87" cy="148.77" r="0.35" fill="#555"/>
<circle cx="501.32" cy="149.40" r="0.35" fill="#555"/>
<circle cx="494.84" cy="148.30" r="0.35" fill="#555"/>
<circle cx="506.45" cy="145.96" r="0.35" fill="#555"/>
<circle cx="503.98" cy="143.19" r="0.35" fill="#555"/>
<circle cx="493.73" cy="144.40" r="0.35" fill="#555"/>
<circle cx="498.29" cy="150.16" r="0.35" fill="#555"/>
<circle cx="497.94" cy="149.73" r="0.35" fill="#555"/>
<circle cx="503.08" cy="148.22" r="0.35" fill="#555"/>
<circle cx="504.68" cy="143.07" r="0.35" fill="#555"/>
<circle cx="506.09" cy="147.05" r="0.35" fill="#555"/>
<circle cx="493.08" cy="147.23" r="0.35" fill="#555"/>
<circle cx="504.72" cy="147.77" r="0.35" fill="#555"/>
<circle cx="507.41" cy="144.65" r="0.35" fill="#555"/>
<circle cx="503.67" cy="148.56" r="0.35" fill="#555"/>
<circle cx="495.68" cy="148.93" r="0.35" fill="#555"/>
<circle cx="494.21" cy="142.81" r="0.35" fill="#555"/>
<circle cx="503.07" cy="142.30" r="0.35" fill="#555"/>
<circle cx="507.87" cy="142.13" r="0.35" fill="#444"/>
<circle cx="508.24" cy="142.90" r="0.35" fill="#444"/>
<circle cx="508.78" cy="142.30" r="0.35" fill="#444"/>
<circle cx="509.00" cy="144.20" r="0.35" fill="#444"/>
<circle cx="508.23" cy="144.50" r="0.35" fill="#444"/>
<circle cx="508.36" cy="142.62" r="0.35" fill="#444"/>
<circle cx="502.97" cy="144.65" r="0.35" fill="#444"/>
<circle cx="506.23" cy="143.92" r="0.35" fill="#444"/>
<circle cx="508.95" cy="141.62" r="0.35" fill="#444"/>
<circle cx="506.57" cy="143.68" r="0.35" fill="#444"/>
<circle cx="505.99" cy="145.09" r="0.35" fill="#444"/>
<circle cx="507.82" cy="143.37" r="0.35" fill="#444"/>
<circle cx="506.13" cy="145.81" r="0.35" fill="#444"/>
<circle cx="506.78" cy="145.48" r="0.35" fill="#444"/>
<circle cx="483.45" cy="119.84" r="0.35" fill="#999"/>
<circle cx="478.85" cy="133.12" r="0.35" fill="#999"/>
<circle cx="483.13" cy="138.56" r="0.35" fill="#999"/>
<circle cx="484.51" cy="140.34" r="0.35" fill="#999"/>
<circle cx="480.98" cy="131.63" r="0.35" fill="#999"/>
<circle cx="484.43" cy="130.12" r="0.35" fill="#999"/>
<circle cx="485.27" cy="121.98" r="0.35" fill="#999"/>
<circle cx="484.06" cy="131.89" r="0.35" fill="#999"/>
<circle cx="476.20" cy="139.96" r="0.35" fill="#999"/>
<circle cx="483.03" cy="133.25" r="0.35" fill="#999"/>
<circle cx="478.87" cy="129.84" r="0.35" fill="#999"/>
<circle cx="486.64" cy="127.31" r="0.35" fill="#999"/>
<circle cx="471.68" cy="127.10" r="0.35" fill="#999"/>
<circle cx="478.50" cy="132.18" r="0.35" fill="#999"/>
<circle cx="480.92" cy="126.71" r="0.35" fill="#999"/>
<circle cx="479.57" cy="140.43" r="0.35" fill="#999"/>
<circle cx="477.77" cy="146.80" r="0.35" fill="#999"/>
<circle cx="480.47" cy="125.45" r="0.35" fill="#999"/>
<circle cx="484.46" cy="137.05" r="0.35" fill="#999"/>
<circle cx="478.97" cy="138.34" r="0.35" fill="#999"/>
<circle cx="476.58" cy="126.63" r="0.35" fill="#999"/>
<circle cx="485.48" cy="131.31" r="0.35" fill="#999"/>
<circle cx="478.19" cy="136.70" r="0.35" fill="#999"/>
<circle cx="484.85" cy="132.94" r="0.35" fill="#999"/>
<circle cx="476.68" cy="130.68" r="0.35" fill="#999"/>
<circle cx="483.35" cy="138.48" r="0.35" fill="#999"/>
<circle cx="487.66" cy="131.33" r="0.35" fill="#999"/>
<circle cx="480.65" cy="132.83" r="0.35" fill="#999"/>
<circle cx="485.72" cy="126.51" r="0.35" fill="#999"/>
<circle cx="486.02" cy="113.86" r="0.35" fill="#999"/>
<circle cx="465.10" cy="162.40" r="0.9" fill="#111"/>
<line x1="453.60" y1="162.40" x2="453.60" y2="164.00" stroke="#333" stroke-width="0.6"/>
<line x1="465.10" y1="162.40" x2="465.10" y2="164.00" stroke="#333" stroke-width="0.6"/>
<line x1="477.60" y1="162.40" x2="477.60" y2="164.00" stroke="#333" stroke-width="0.6"/>
<line x1="496.10" y1="162.40" x2="496.10" y2="164.00" stroke="#333" stroke-width="0.6"/>
<line x1="512.10" y1="162.40" x2="512.10" y2="164.00" stroke="#333" stroke-width="0.6"/>
<text x="313.10" y="174.70" font-size="7.7" text-anchor="end" stroke="#231f20">10<tspan dy="-3.3" font-size="5.50">3</tspan></text>
<text x="318.60" y="174.70" font-size="7.7" text-anchor="middle" stroke="#231f20">0</text>
<text x="336.00" y="174.70" font-size="7.7" text-anchor="end" stroke="#231f20">10<tspan dy="-3.3" font-size="5.50">3</tspan></text>
<text x="353.90" y="174.70" font-size="7.7" text-anchor="end" stroke="#231f20">10<tspan dy="-3.3" font-size="5.50">4</tspan></text>
<text x="371.60" y="174.70" font-size="7.7" text-anchor="end" stroke="#231f20">10<tspan dy="-3.3" font-size="5.50">5</tspan></text>
<text x="386.90" y="174.70" font-size="7.7" text-anchor="end" stroke="#231f20">10<tspan dy="-3.3" font-size="5.50">3</tspan></text>
<text x="392.40" y="174.70" font-size="7.7" text-anchor="middle" stroke="#231f20">0</text>
<text x="409.80" y="174.70" font-size="7.7" text-anchor="end" stroke="#231f20">10<tspan dy="-3.3" font-size="5.50">3</tspan></text>
<text x="427.70" y="174.70" font-size="7.7" text-anchor="end" stroke="#231f20">10<tspan dy="-3.3" font-size="5.50">4</tspan></text>
<text x="445.40" y="174.70" font-size="7.7" text-anchor="end" stroke="#231f20">10<tspan dy="-3.3" font-size="5.50">5</tspan></text>
<text x="460.60" y="174.70" font-size="7.7" text-anchor="end" stroke="#231f20">10<tspan dy="-3.3" font-size="5.50">3</tspan></text>
<text x="466.10" y="174.70" font-size="7.7" text-anchor="middle" stroke="#231f20">0</text>
<text x="483.50" y="174.70" font-size="7.7" text-anchor="end" stroke="#231f20">10<tspan dy="-3.3" font-size="5.50">3</tspan></text>
<text x="501.40" y="174.70" font-size="7.7" text-anchor="end" stroke="#231f20">10<tspan dy="-3.3" font-size="5.50">4</tspan></text>
<text x="519.10" y="174.70" font-size="7.7" text-anchor="end" stroke="#231f20">10<tspan dy="-3.3" font-size="5.50">5</tspan></text>
<line x1="279.50" y1="152.00" x2="279.50" y2="180.60" stroke="#111" stroke-width="1.1"/>
<path d="M277.2,153.5 L279.5,148.6 L281.8,153.5 Z" fill="#111"/>
<line x1="279.50" y1="180.60" x2="308.00" y2="180.60" stroke="#111" stroke-width="1.1"/>
<path d="M306.5,178.3 L311.5,180.6 L306.5,182.9 Z" fill="#111"/>
<text x="273.40" y="164.00" font-size="7.0" text-anchor="middle" textLength="16.70" lengthAdjust="spacingAndGlyphs" transform="rotate(-90 273.40 164.00)" stroke="#231f20">hCD45</text>
<text x="296.10" y="191.30" font-size="6.9" text-anchor="middle" textLength="18.20" lengthAdjust="spacingAndGlyphs" stroke="#231f20">mCD45</text>
<text x="0.80" y="207.60" font-size="12" fill="#111" font-weight="bold" stroke="#111">C</text>
<line x1="46.65" y1="222.30" x2="46.65" y2="340.90" stroke="#111" stroke-width="1.25"/>
<line x1="46.05" y1="340.30" x2="232.00" y2="340.30" stroke="#111" stroke-width="1.25"/>
<line x1="43.65" y1="340.30" x2="46.65" y2="340.30" stroke="#111" stroke-width="0.9"/>
<text x="39.50" y="343.30" font-size="8.5" text-anchor="end" stroke="#231f20">0</text>
<line x1="43.65" y1="317.40" x2="46.65" y2="317.40" stroke="#111" stroke-width="0.9"/>
<text x="39.50" y="320.40" font-size="8.5" text-anchor="end" stroke="#231f20">20</text>
<line x1="43.65" y1="294.50" x2="46.65" y2="294.50" stroke="#111" stroke-width="0.9"/>
<text x="39.50" y="297.50" font-size="8.5" text-anchor="end" stroke="#231f20">40</text>
<line x1="43.65" y1="271.60" x2="46.65" y2="271.60" stroke="#111" stroke-width="0.9"/>
<text x="39.50" y="274.60" font-size="8.5" text-anchor="end" stroke="#231f20">60</text>
<line x1="43.65" y1="248.70" x2="46.65" y2="248.70" stroke="#111" stroke-width="0.9"/>
<text x="39.50" y="251.70" font-size="8.5" text-anchor="end" stroke="#231f20">80</text>
<line x1="43.65" y1="225.80" x2="46.65" y2="225.80" stroke="#111" stroke-width="0.9"/>
<text x="39.50" y="228.80" font-size="8.5" text-anchor="end" stroke="#231f20">100</text>
<line x1="46.65" y1="340.30" x2="46.65" y2="343.30" stroke="#111" stroke-width="0.9"/>
<text x="46.65" y="354.60" font-size="8.5" text-anchor="middle" stroke="#231f20">0</text>
<line x1="91.95" y1="340.30" x2="91.95" y2="343.30" stroke="#111" stroke-width="0.9"/>
<text x="91.95" y="354.60" font-size="8.5" text-anchor="middle" stroke="#231f20">20</text>
<line x1="137.25" y1="340.30" x2="137.25" y2="343.30" stroke="#111" stroke-width="0.9"/>
<text x="137.25" y="354.60" font-size="8.5" text-anchor="middle" stroke="#231f20">40</text>
<line x1="182.55" y1="340.30" x2="182.55" y2="343.30" stroke="#111" stroke-width="0.9"/>
<text x="182.55" y="354.60" font-size="8.5" text-anchor="middle" stroke="#231f20">60</text>
<line x1="227.85" y1="340.30" x2="227.85" y2="343.30" stroke="#111" stroke-width="0.9"/>
<text x="227.85" y="354.60" font-size="8.5" text-anchor="middle" stroke="#231f20">80</text>
<text x="92.70" y="369.10" font-size="10.3" textLength="90.00" lengthAdjust="spacingAndGlyphs" stroke="#231f20">Time post transplant (days)</text>
<text x="18.20" y="283.60" font-size="10.6" text-anchor="middle" textLength="58.60" lengthAdjust="spacingAndGlyphs" transform="rotate(-90 18.20 283.60)" stroke="#231f20">hCD45+ cells (%)</text>
<text x="121.20" y="220.00" font-size="10" textLength="31.80" lengthAdjust="spacingAndGlyphs" stroke="#231f20">PDX01</text>
<line x1="91.95" y1="289.10" x2="130.46" y2="289.10" stroke="#c4c4c4" stroke-width="1.0" stroke-dasharray="12,2"/>
<line x1="91.95" y1="285.80" x2="91.95" y2="292.40" stroke="#c4c4c4" stroke-width="1.0"/>
<line x1="130.46" y1="285.80" x2="130.46" y2="292.40" stroke="#c4c4c4" stroke-width="1.0"/>
<polyline points="103.28,340.30 119.13,332.29 134.99,336.87 151.29,304.81 167.15,304.81 190.02,237.25" fill="none" stroke="#1e4a80" stroke-width="1.0" stroke-linejoin="round"/>
<circle cx="103.28" cy="340.30" r="1.1" fill="#163a66"/>
<circle cx="119.13" cy="332.29" r="1.1" fill="#163a66"/>
<circle cx="134.99" cy="336.87" r="1.1" fill="#163a66"/>
<circle cx="151.29" cy="304.81" r="1.1" fill="#163a66"/>
<circle cx="167.15" cy="304.81" r="1.1" fill="#163a66"/>
<circle cx="190.02" cy="237.25" r="1.1" fill="#163a66"/>
<polyline points="103.28,340.30 119.13,334.57 134.99,335.72 151.29,318.55 167.15,297.94 190.02,239.54" fill="none" stroke="#1e4a80" stroke-width="1.0" stroke-linejoin="round"/>
<circle cx="103.28" cy="340.30" r="1.1" fill="#163a66"/>
<circle cx="119.13" cy="334.57" r="1.1" fill="#163a66"/>
<circle cx="134.99" cy="335.72" r="1.1" fill="#163a66"/>
<circle cx="151.29" cy="318.55" r="1.1" fill="#163a66"/>
<circle cx="167.15" cy="297.94" r="1.1" fill="#163a66"/>
<circle cx="190.02" cy="239.54" r="1.1" fill="#163a66"/>
<polyline points="103.28,340.30 119.13,335.72 134.99,338.01 151.29,321.98 167.15,303.66 190.02,241.26" fill="none" stroke="#1e4a80" stroke-width="1.0" stroke-linejoin="round"/>
<circle cx="103.28" cy="340.30" r="1.1" fill="#163a66"/>
<circle cx="119.13" cy="335.72" r="1.1" fill="#163a66"/>
<circle cx="134.99" cy="338.01" r="1.1" fill="#163a66"/>
<circle cx="151.29" cy="321.98" r="1.1" fill="#163a66"/>
<circle cx="167.15" cy="303.66" r="1.1" fill="#163a66"/>
<circle cx="190.02" cy="241.26" r="1.1" fill="#163a66"/>
<polyline points="103.28,340.30 119.13,336.87 134.99,334.57 151.29,330.00 167.15,307.10 190.02,242.98" fill="none" stroke="#1e4a80" stroke-width="1.0" stroke-linejoin="round"/>
<circle cx="103.28" cy="340.30" r="1.1" fill="#163a66"/>
<circle cx="119.13" cy="336.87" r="1.1" fill="#163a66"/>
<circle cx="134.99" cy="334.57" r="1.1" fill="#163a66"/>
<circle cx="151.29" cy="330.00" r="1.1" fill="#163a66"/>
<circle cx="167.15" cy="307.10" r="1.1" fill="#163a66"/>
<circle cx="190.02" cy="242.98" r="1.1" fill="#163a66"/>
<polyline points="103.28,340.30 119.13,338.01 134.99,339.16 151.29,334.57 167.15,316.25 190.02,245.27" fill="none" stroke="#1e4a80" stroke-width="1.0" stroke-linejoin="round"/>
<circle cx="103.28" cy="340.30" r="1.1" fill="#163a66"/>
<circle cx="119.13" cy="338.01" r="1.1" fill="#163a66"/>
<circle cx="134.99" cy="339.16" r="1.1" fill="#163a66"/>
<circle cx="151.29" cy="334.57" r="1.1" fill="#163a66"/>
<circle cx="167.15" cy="316.25" r="1.1" fill="#163a66"/>
<circle cx="190.02" cy="245.27" r="1.1" fill="#163a66"/>
<polyline points="103.28,340.30 119.13,333.43 134.99,338.01 151.29,332.29 167.15,310.53 190.02,247.56" fill="none" stroke="#1e4a80" stroke-width="1.0" stroke-linejoin="round"/>
<circle cx="103.28" cy="340.30" r="1.1" fill="#163a66"/>
<circle cx="119.13" cy="333.43" r="1.1" fill="#163a66"/>
<circle cx="134.99" cy="338.01" r="1.1" fill="#163a66"/>
<circle cx="151.29" cy="332.29" r="1.1" fill="#163a66"/>
<circle cx="167.15" cy="310.53" r="1.1" fill="#163a66"/>
<circle cx="190.02" cy="247.56" r="1.1" fill="#163a66"/>
<polyline points="103.28,340.30 119.13,338.01 134.99,336.87 151.29,326.56 167.15,304.23 190.02,277.32 201.35,239.54" fill="none" stroke="#1e4a80" stroke-width="1.0" stroke-linejoin="round"/>
<circle cx="103.28" cy="340.30" r="1.1" fill="#163a66"/>
<circle cx="119.13" cy="338.01" r="1.1" fill="#163a66"/>
<circle cx="134.99" cy="336.87" r="1.1" fill="#163a66"/>
<circle cx="151.29" cy="326.56" r="1.1" fill="#163a66"/>
<circle cx="167.15" cy="304.23" r="1.1" fill="#163a66"/>
<circle cx="190.02" cy="277.32" r="1.1" fill="#163a66"/>
<circle cx="201.35" cy="239.54" r="1.1" fill="#163a66"/>
<polyline points="103.28,340.30 119.13,339.16 134.99,339.16 151.29,336.87 167.15,321.98" fill="none" stroke="#1e4a80" stroke-width="1.0" stroke-linejoin="round"/>
<circle cx="103.28" cy="340.30" r="1.1" fill="#163a66"/>
<circle cx="119.13" cy="339.16" r="1.1" fill="#163a66"/>
<circle cx="134.99" cy="339.16" r="1.1" fill="#163a66"/>
<circle cx="151.29" cy="336.87" r="1.1" fill="#163a66"/>
<circle cx="167.15" cy="321.98" r="1.1" fill="#163a66"/>
<polyline points="103.28,340.30 119.13,340.30 134.99,340.30 151.29,340.30 167.15,340.30 190.02,340.30 201.35,340.30" fill="none" stroke="#1e4a80" stroke-width="1.0" stroke-linejoin="round"/>
<circle cx="103.28" cy="340.30" r="1.1" fill="#163a66"/>
<circle cx="119.13" cy="340.30" r="1.1" fill="#163a66"/>
<circle cx="134.99" cy="340.30" r="1.1" fill="#163a66"/>
<circle cx="151.29" cy="340.30" r="1.1" fill="#163a66"/>
<circle cx="167.15" cy="340.30" r="1.1" fill="#163a66"/>
<circle cx="190.02" cy="340.30" r="1.1" fill="#163a66"/>
<circle cx="201.35" cy="340.30" r="1.1" fill="#163a66"/>
<polyline points="86.51,340.30 103.28,320.84 119.13,283.05 134.99,236.11" fill="none" stroke="#c41438" stroke-width="1.05" stroke-linejoin="round"/>
<circle cx="86.51" cy="340.30" r="1.1" fill="#9a1030"/>
<circle cx="103.28" cy="320.84" r="1.1" fill="#9a1030"/>
<circle cx="119.13" cy="283.05" r="1.1" fill="#9a1030"/>
<circle cx="134.99" cy="236.11" r="1.1" fill="#9a1030"/>
<polyline points="86.51,340.30 103.28,325.42 119.13,284.19 134.99,237.25" fill="none" stroke="#c41438" stroke-width="1.05" stroke-linejoin="round"/>
<circle cx="86.51" cy="340.30" r="1.1" fill="#9a1030"/>
<circle cx="103.28" cy="325.42" r="1.1" fill="#9a1030"/>
<circle cx="119.13" cy="284.19" r="1.1" fill="#9a1030"/>
<circle cx="134.99" cy="237.25" r="1.1" fill="#9a1030"/>
<polyline points="86.51,340.30 103.28,330.00 119.13,286.49 134.99,238.40" fill="none" stroke="#c41438" stroke-width="1.05" stroke-linejoin="round"/>
<circle cx="86.51" cy="340.30" r="1.1" fill="#9a1030"/>
<circle cx="103.28" cy="330.00" r="1.1" fill="#9a1030"/>
<circle cx="119.13" cy="286.49" r="1.1" fill="#9a1030"/>
<circle cx="134.99" cy="238.40" r="1.1" fill="#9a1030"/>
<polyline points="86.51,340.30 103.28,333.43 119.13,287.63 134.99,239.54" fill="none" stroke="#c41438" stroke-width="1.05" stroke-linejoin="round"/>
<circle cx="86.51" cy="340.30" r="1.1" fill="#9a1030"/>
<circle cx="103.28" cy="333.43" r="1.1" fill="#9a1030"/>
<circle cx="119.13" cy="287.63" r="1.1" fill="#9a1030"/>
<circle cx="134.99" cy="239.54" r="1.1" fill="#9a1030"/>
<polyline points="86.51,340.30 103.28,335.72 119.13,289.92 134.99,241.83" fill="none" stroke="#c41438" stroke-width="1.05" stroke-linejoin="round"/>
<circle cx="86.51" cy="340.30" r="1.1" fill="#9a1030"/>
<circle cx="103.28" cy="335.72" r="1.1" fill="#9a1030"/>
<circle cx="119.13" cy="289.92" r="1.1" fill="#9a1030"/>
<circle cx="134.99" cy="241.83" r="1.1" fill="#9a1030"/>
<polyline points="86.51,340.30 103.28,338.01 119.13,293.36 134.99,244.12" fill="none" stroke="#c41438" stroke-width="1.05" stroke-linejoin="round"/>
<circle cx="86.51" cy="340.30" r="1.1" fill="#9a1030"/>
<circle cx="103.28" cy="338.01" r="1.1" fill="#9a1030"/>
<circle cx="119.13" cy="293.36" r="1.1" fill="#9a1030"/>
<circle cx="134.99" cy="244.12" r="1.1" fill="#9a1030"/>
<polyline points="86.51,340.30 103.28,339.16 119.13,296.79 134.99,246.41 151.97,234.96" fill="none" stroke="#c41438" stroke-width="1.05" stroke-linejoin="round"/>
<circle cx="86.51" cy="340.30" r="1.1" fill="#9a1030"/>
<circle cx="103.28" cy="339.16" r="1.1" fill="#9a1030"/>
<circle cx="119.13" cy="296.79" r="1.1" fill="#9a1030"/>
<circle cx="134.99" cy="246.41" r="1.1" fill="#9a1030"/>
<circle cx="151.97" cy="234.96" r="1.1" fill="#9a1030"/>
<polyline points="86.51,340.30 103.28,339.73 119.13,302.51 134.99,249.85" fill="none" stroke="#c41438" stroke-width="1.05" stroke-linejoin="round"/>
<circle cx="86.51" cy="340.30" r="1.1" fill="#9a1030"/>
<circle cx="103.28" cy="339.73" r="1.1" fill="#9a1030"/>
<circle cx="119.13" cy="302.51" r="1.1" fill="#9a1030"/>
<circle cx="134.99" cy="249.85" r="1.1" fill="#9a1030"/>
<polyline points="86.51,340.30 103.28,340.30 119.13,305.95 134.99,253.28" fill="none" stroke="#c41438" stroke-width="1.05" stroke-linejoin="round"/>
<circle cx="86.51" cy="340.30" r="1.1" fill="#9a1030"/>
<circle cx="103.28" cy="340.30" r="1.1" fill="#9a1030"/>
<circle cx="119.13" cy="305.95" r="1.1" fill="#9a1030"/>
<circle cx="134.99" cy="253.28" r="1.1" fill="#9a1030"/>
<polyline points="86.51,340.30 103.28,340.30 119.13,311.68 134.99,262.44" fill="none" stroke="#c41438" stroke-width="1.05" stroke-linejoin="round"/>
<circle cx="86.51" cy="340.30" r="1.1" fill="#9a1030"/>
<circle cx="103.28" cy="340.30" r="1.1" fill="#9a1030"/>
<circle cx="119.13" cy="311.68" r="1.1" fill="#9a1030"/>
<circle cx="134.99" cy="262.44" r="1.1" fill="#9a1030"/>
<line x1="51.00" y1="232.40" x2="63.80" y2="232.40" stroke="#a01c36" stroke-width="1.4"/>
<circle cx="57.40" cy="232.40" r="1.35" fill="#7a1226"/>
<line x1="51.00" y1="245.50" x2="63.80" y2="245.50" stroke="#1f4a78" stroke-width="1.4"/>
<circle cx="57.40" cy="245.50" r="1.35" fill="#0f2a48"/>
<text x="71.20" y="235.50" font-size="8.3" textLength="24.90" lengthAdjust="spacingAndGlyphs" stroke="#231f20">Vehicle</text>
<text x="71.20" y="248.60" font-size="8.3" textLength="40.80" lengthAdjust="spacingAndGlyphs" stroke="#231f20">OTSSP167</text>
<text x="251.60" y="207.60" font-size="12" fill="#111" font-weight="bold" stroke="#111">D</text>
<line x1="305.40" y1="231.00" x2="305.40" y2="341.00" stroke="#111" stroke-width="1.2"/>
<line x1="304.80" y1="340.40" x2="463.60" y2="340.40" stroke="#111" stroke-width="1.2"/>
<line x1="302.40" y1="340.40" x2="305.40" y2="340.40" stroke="#111" stroke-width="0.9"/>
<text x="298.10" y="343.40" font-size="8.5" text-anchor="end" stroke="#231f20">0</text>
<line x1="302.40" y1="287.10" x2="305.40" y2="287.10" stroke="#111" stroke-width="0.9"/>
<text x="298.10" y="290.10" font-size="8.5" text-anchor="end" stroke="#231f20">50</text>
<line x1="302.40" y1="233.80" x2="305.40" y2="233.80" stroke="#111" stroke-width="0.9"/>
<text x="298.10" y="236.80" font-size="8.5" text-anchor="end" stroke="#231f20">100</text>
<line x1="305.40" y1="340.40" x2="305.40" y2="343.40" stroke="#111" stroke-width="0.9"/>
<text x="305.40" y="354.80" font-size="8.5" text-anchor="middle" stroke="#231f20">0</text>
<line x1="344.38" y1="340.40" x2="344.38" y2="343.40" stroke="#111" stroke-width="0.9"/>
<text x="344.38" y="354.80" font-size="8.5" text-anchor="middle" stroke="#231f20">20</text>
<line x1="383.36" y1="340.40" x2="383.36" y2="343.40" stroke="#111" stroke-width="0.9"/>
<text x="383.36" y="354.80" font-size="8.5" text-anchor="middle" stroke="#231f20">40</text>
<line x1="422.34" y1="340.40" x2="422.34" y2="343.40" stroke="#111" stroke-width="0.9"/>
<text x="422.34" y="354.80" font-size="8.5" text-anchor="middle" stroke="#231f20">60</text>
<line x1="461.32" y1="340.40" x2="461.32" y2="343.40" stroke="#111" stroke-width="0.9"/>
<text x="461.32" y="354.80" font-size="8.5" text-anchor="middle" stroke="#231f20">80</text>
<text x="338.80" y="370.60" font-size="10.3" textLength="89.20" lengthAdjust="spacingAndGlyphs" stroke="#231f20">Time post transplant (days)</text>
<text x="276.80" y="287.60" font-size="10.6" text-anchor="middle" textLength="63.00" lengthAdjust="spacingAndGlyphs" transform="rotate(-90 276.80 287.60)" stroke="#231f20">Overall survival (%)</text>
<polyline points="305.40,234.00 416.30,234.00 416.30,247.00 428.10,247.00 428.10,260.50 430.20,260.50 430.20,274.00 431.90,274.00 431.90,287.30 434.50,287.30 434.50,300.60 436.20,300.60 436.20,313.80 439.70,313.80 439.70,327.00 463.40,327.00" fill="none" stroke="#2c5686" stroke-width="1.1" stroke-linejoin="round"/>
<polyline points="305.40,233.80 389.00,233.80 389.00,244.40 393.00,244.40 393.00,298.00 395.20,298.00 395.20,329.70 398.70,329.70 398.70,340.40" fill="none" stroke="#cc3a58" stroke-width="1.2" stroke-linejoin="round"/>
<line x1="398.70" y1="230.80" x2="398.70" y2="233.80" stroke="#2c5686" stroke-width="0.8"/>
<line x1="463.40" y1="323.60" x2="463.40" y2="327.00" stroke="#2c5686" stroke-width="0.9"/>
<line x1="316.00" y1="253.10" x2="328.80" y2="253.10" stroke="#cc3a58" stroke-width="1.2"/>
<line x1="322.50" y1="249.60" x2="322.50" y2="253.10" stroke="#cc3a58" stroke-width="0.9"/>
<line x1="316.00" y1="265.50" x2="328.80" y2="265.50" stroke="#2c5686" stroke-width="1.1"/>
<line x1="322.50" y1="262.00" x2="322.50" y2="265.50" stroke="#2c5686" stroke-width="0.9"/>
<text x="336.20" y="255.80" font-size="8.3" textLength="24.90" lengthAdjust="spacingAndGlyphs" stroke="#231f20">Vehicle</text>
<text x="336.20" y="268.10" font-size="8.3" textLength="40.70" lengthAdjust="spacingAndGlyphs" stroke="#231f20">OTSSP167</text>
<text x="320.8" y="290.2" font-size="8.4" textLength="55.4" lengthAdjust="spacingAndGlyphs" stroke="#231f20"><tspan font-style="italic">P</tspan> value &lt; .0001</text>
<text x="337.80" y="322.10" font-size="8.3" textLength="40.60" lengthAdjust="spacingAndGlyphs" stroke="#231f20">OTSSP167</text>
<line x1="341.50" y1="327.50" x2="375.20" y2="327.50" stroke="#111" stroke-width="0.9"/>
<text x="0.80" y="390.90" font-size="12" fill="#111" font-weight="bold" stroke="#111">E</text>
<line x1="47.40" y1="408.00" x2="47.40" y2="522.10" stroke="#111" stroke-width="1.25"/>
<line x1="46.80" y1="521.50" x2="168.00" y2="521.50" stroke="#111" stroke-width="1.25"/>
<line x1="44.40" y1="521.50" x2="47.40" y2="521.50" stroke="#111" stroke-width="0.9"/>
<text x="40.40" y="524.50" font-size="8.5" text-anchor="end" stroke="#231f20">0</text>
<line x1="44.40" y1="493.88" x2="47.40" y2="493.88" stroke="#111" stroke-width="0.9"/>
<text x="40.40" y="496.88" font-size="8.5" text-anchor="end" stroke="#231f20">20</text>
<line x1="44.40" y1="466.26" x2="47.40" y2="466.26" stroke="#111" stroke-width="0.9"/>
<text x="40.40" y="469.26" font-size="8.5" text-anchor="end" stroke="#231f20">40</text>
<line x1="44.40" y1="438.64" x2="47.40" y2="438.64" stroke="#111" stroke-width="0.9"/>
<text x="40.40" y="441.64" font-size="8.5" text-anchor="end" stroke="#231f20">60</text>
<line x1="44.40" y1="411.02" x2="47.40" y2="411.02" stroke="#111" stroke-width="0.9"/>
<text x="40.40" y="414.02" font-size="8.5" text-anchor="end" stroke="#231f20">80</text>
<line x1="47.50" y1="521.50" x2="47.50" y2="524.50" stroke="#111" stroke-width="0.9"/>
<text x="47.50" y="536.30" font-size="8.5" text-anchor="middle" stroke="#231f20">0</text>
<line x1="84.60" y1="521.50" x2="84.60" y2="524.50" stroke="#111" stroke-width="0.9"/>
<text x="84.60" y="536.30" font-size="8.5" text-anchor="middle" stroke="#231f20">20</text>
<line x1="121.70" y1="521.50" x2="121.70" y2="524.50" stroke="#111" stroke-width="0.9"/>
<text x="121.70" y="536.30" font-size="8.5" text-anchor="middle" stroke="#231f20">40</text>
<line x1="158.80" y1="521.50" x2="158.80" y2="524.50" stroke="#111" stroke-width="0.9"/>
<text x="158.80" y="536.30" font-size="8.5" text-anchor="middle" stroke="#231f20">60</text>
<text x="58.00" y="551.00" font-size="10.3" textLength="89.00" lengthAdjust="spacingAndGlyphs" stroke="#231f20">Time post transplant (days)</text>
<text x="24.80" y="466.20" font-size="10.6" text-anchor="middle" textLength="59.20" lengthAdjust="spacingAndGlyphs" transform="rotate(-90 24.80 466.20)" stroke="#231f20">hCD45+ cells (%)</text>
<text x="88.00" y="402.00" font-size="10" textLength="33.20" lengthAdjust="spacingAndGlyphs" stroke="#231f20">PDX02</text>
<line x1="107.97" y1="466.30" x2="143.22" y2="466.30" stroke="#c4c4c4" stroke-width="1.0" stroke-dasharray="10,2.5"/>
<line x1="107.97" y1="463.80" x2="107.97" y2="468.80" stroke="#c4c4c4" stroke-width="1.0"/>
<line x1="143.22" y1="463.80" x2="143.22" y2="468.80" stroke="#c4c4c4" stroke-width="1.0"/>
<polyline points="73.47,521.50 103.15,514.60 116.14,517.36 129.12,517.36 142.11,511.83" fill="none" stroke="#1e4a80" stroke-width="1.1" stroke-linejoin="round"/>
<circle cx="73.47" cy="521.50" r="1.1" fill="#163a66"/>
<circle cx="103.15" cy="514.60" r="1.1" fill="#163a66"/>
<circle cx="116.14" cy="517.36" r="1.1" fill="#163a66"/>
<circle cx="129.12" cy="517.36" r="1.1" fill="#163a66"/>
<circle cx="142.11" cy="511.83" r="1.1" fill="#163a66"/>
<polyline points="73.47,521.50 103.15,515.98 116.14,518.74 129.12,520.12 142.11,521.50" fill="none" stroke="#1e4a80" stroke-width="1.1" stroke-linejoin="round"/>
<circle cx="73.47" cy="521.50" r="1.1" fill="#163a66"/>
<circle cx="103.15" cy="515.98" r="1.1" fill="#163a66"/>
<circle cx="116.14" cy="518.74" r="1.1" fill="#163a66"/>
<circle cx="129.12" cy="520.12" r="1.1" fill="#163a66"/>
<circle cx="142.11" cy="521.50" r="1.1" fill="#163a66"/>
<polyline points="73.47,521.50 103.15,517.36 116.14,520.12 129.12,520.81 142.11,521.50" fill="none" stroke="#1e4a80" stroke-width="1.1" stroke-linejoin="round"/>
<circle cx="73.47" cy="521.50" r="1.1" fill="#163a66"/>
<circle cx="103.15" cy="517.36" r="1.1" fill="#163a66"/>
<circle cx="116.14" cy="520.12" r="1.1" fill="#163a66"/>
<circle cx="129.12" cy="520.81" r="1.1" fill="#163a66"/>
<circle cx="142.11" cy="521.50" r="1.1" fill="#163a66"/>
<polyline points="73.47,521.50 103.15,513.21 116.14,518.05 129.12,518.74 142.11,521.50" fill="none" stroke="#1e4a80" stroke-width="1.1" stroke-linejoin="round"/>
<circle cx="73.47" cy="521.50" r="1.1" fill="#163a66"/>
<circle cx="103.15" cy="513.21" r="1.1" fill="#163a66"/>
<circle cx="116.14" cy="518.05" r="1.1" fill="#163a66"/>
<circle cx="129.12" cy="518.74" r="1.1" fill="#163a66"/>
<circle cx="142.11" cy="521.50" r="1.1" fill="#163a66"/>
<polyline points="73.47,521.50 103.15,511.83 116.14,472.47 129.12,419.31" fill="none" stroke="#c41438" stroke-width="1.15" stroke-linejoin="round"/>
<circle cx="73.47" cy="521.50" r="1.1" fill="#9a1030"/>
<circle cx="103.15" cy="511.83" r="1.1" fill="#9a1030"/>
<circle cx="116.14" cy="472.47" r="1.1" fill="#9a1030"/>
<circle cx="129.12" cy="419.31" r="1.1" fill="#9a1030"/>
<polyline points="73.47,521.50 103.15,514.60 116.14,486.28 129.12,423.45" fill="none" stroke="#c41438" stroke-width="1.15" stroke-linejoin="round"/>
<circle cx="73.47" cy="521.50" r="1.1" fill="#9a1030"/>
<circle cx="103.15" cy="514.60" r="1.1" fill="#9a1030"/>
<circle cx="116.14" cy="486.28" r="1.1" fill="#9a1030"/>
<circle cx="129.12" cy="423.45" r="1.1" fill="#9a1030"/>
<polyline points="73.47,521.50 103.15,515.98 116.14,488.36 129.12,425.52" fill="none" stroke="#c41438" stroke-width="1.15" stroke-linejoin="round"/>
<circle cx="73.47" cy="521.50" r="1.1" fill="#9a1030"/>
<circle cx="103.15" cy="515.98" r="1.1" fill="#9a1030"/>
<circle cx="116.14" cy="488.36" r="1.1" fill="#9a1030"/>
<circle cx="129.12" cy="425.52" r="1.1" fill="#9a1030"/>
<polyline points="73.47,521.50 103.15,518.05 116.14,489.74 129.12,434.50" fill="none" stroke="#c41438" stroke-width="1.15" stroke-linejoin="round"/>
<circle cx="73.47" cy="521.50" r="1.1" fill="#9a1030"/>
<circle cx="103.15" cy="518.05" r="1.1" fill="#9a1030"/>
<circle cx="116.14" cy="489.74" r="1.1" fill="#9a1030"/>
<circle cx="129.12" cy="434.50" r="1.1" fill="#9a1030"/>
<polyline points="73.47,521.50 103.15,513.21 116.14,474.55 129.12,424.83" fill="none" stroke="#c41438" stroke-width="1.15" stroke-linejoin="round"/>
<circle cx="73.47" cy="521.50" r="1.1" fill="#9a1030"/>
<circle cx="103.15" cy="513.21" r="1.1" fill="#9a1030"/>
<circle cx="116.14" cy="474.55" r="1.1" fill="#9a1030"/>
<circle cx="129.12" cy="424.83" r="1.1" fill="#9a1030"/>
<line x1="50.90" y1="418.15" x2="63.80" y2="418.15" stroke="#a01c36" stroke-width="1.4"/>
<circle cx="57.20" cy="418.15" r="1.35" fill="#7a1226"/>
<line x1="50.90" y1="431.20" x2="63.80" y2="431.20" stroke="#1f4a78" stroke-width="1.4"/>
<circle cx="57.20" cy="431.20" r="1.35" fill="#0f2a48"/>
<text x="71.20" y="421.20" font-size="8.3" textLength="24.90" lengthAdjust="spacingAndGlyphs" stroke="#231f20">Vehicle</text>
<text x="71.20" y="434.50" font-size="8.3" textLength="40.80" lengthAdjust="spacingAndGlyphs" stroke="#231f20">OTSSP167</text>
<rect x="215.10" y="425.52" width="14.70" height="95.88" fill="#efb8ac"/>
<rect x="238.80" y="460.16" width="14.50" height="61.24" fill="#b8bfdc"/>
<circle cx="216.30" cy="424.60" r="1.45" fill="#b3122f"/>
<circle cx="220.20" cy="423.50" r="1.45" fill="#b3122f"/>
<circle cx="224.30" cy="424.30" r="1.45" fill="#b3122f"/>
<circle cx="228.40" cy="423.80" r="1.45" fill="#b3122f"/>
<circle cx="246.00" cy="443.20" r="1.45" fill="#1a3d6e"/>
<circle cx="246.00" cy="446.80" r="1.45" fill="#1a3d6e"/>
<circle cx="241.90" cy="460.80" r="1.45" fill="#1a3d6e"/>
<circle cx="249.60" cy="460.80" r="1.45" fill="#1a3d6e"/>
<circle cx="246.00" cy="483.80" r="1.45" fill="#1a3d6e"/>
<line x1="206.70" y1="418.00" x2="206.70" y2="522.00" stroke="#111" stroke-width="1.25"/>
<line x1="206.10" y1="521.40" x2="257.20" y2="521.40" stroke="#111" stroke-width="1.25"/>
<line x1="202.90" y1="521.40" x2="206.70" y2="521.40" stroke="#111" stroke-width="0.9"/>
<text x="199.60" y="524.40" font-size="8.5" text-anchor="end" stroke="#231f20">0</text>
<line x1="202.90" y1="471.20" x2="206.70" y2="471.20" stroke="#111" stroke-width="0.9"/>
<text x="199.60" y="474.20" font-size="8.5" text-anchor="end" stroke="#231f20">50</text>
<line x1="202.90" y1="421.00" x2="206.70" y2="421.00" stroke="#111" stroke-width="0.9"/>
<text x="199.60" y="424.00" font-size="8.5" text-anchor="end" stroke="#231f20">100</text>
<line x1="222.40" y1="521.40" x2="222.40" y2="524.60" stroke="#111" stroke-width="0.9"/>
<line x1="245.90" y1="521.40" x2="245.90" y2="524.60" stroke="#111" stroke-width="0.9"/>
<text x="226.90" y="534.00" font-size="8.6" text-anchor="end" textLength="28.50" lengthAdjust="spacingAndGlyphs" transform="rotate(-45 226.90 534.00)" stroke="#231f20">Vehicle</text>
<text x="250.40" y="534.00" font-size="8.6" text-anchor="end" textLength="45.00" lengthAdjust="spacingAndGlyphs" transform="rotate(-45 250.40 534.00)" stroke="#231f20">OTSSP167</text>
<line x1="221.90" y1="413.70" x2="246.00" y2="413.70" stroke="#333" stroke-width="1.0"/>
<text x="233.95" y="412.20" font-size="8.2" text-anchor="middle" stroke="#231f20">**</text>
<text transform="translate(178.20 466.00) rotate(-90) scale(0.7407 1)" font-size="10.3" text-anchor="middle" stroke="#231f20">hCD45<tspan font-size="6.39" dy="-3.4">+</tspan><tspan font-size="10.30" dy="3.4"> cells in BM (%)</tspan></text>
<text x="262.60" y="390.90" font-size="12" fill="#111" font-weight="bold" stroke="#111">F</text>
<line x1="304.45" y1="409.80" x2="304.45" y2="522.10" stroke="#111" stroke-width="1.25"/>
<line x1="303.85" y1="521.50" x2="421.00" y2="521.50" stroke="#111" stroke-width="1.25"/>
<line x1="301.05" y1="521.50" x2="304.45" y2="521.50" stroke="#111" stroke-width="0.9"/>
<text x="297.50" y="524.50" font-size="8.5" text-anchor="end" stroke="#231f20">0</text>
<line x1="301.05" y1="494.32" x2="304.45" y2="494.32" stroke="#111" stroke-width="0.9"/>
<text x="297.50" y="497.32" font-size="8.5" text-anchor="end" stroke="#231f20">10</text>
<line x1="301.05" y1="467.15" x2="304.45" y2="467.15" stroke="#111" stroke-width="0.9"/>
<text x="297.50" y="470.15" font-size="8.5" text-anchor="end" stroke="#231f20">20</text>
<line x1="301.05" y1="439.98" x2="304.45" y2="439.98" stroke="#111" stroke-width="0.9"/>
<text x="297.50" y="442.98" font-size="8.5" text-anchor="end" stroke="#231f20">30</text>
<line x1="301.05" y1="412.80" x2="304.45" y2="412.80" stroke="#111" stroke-width="0.9"/>
<text x="297.50" y="415.80" font-size="8.5" text-anchor="end" stroke="#231f20">40</text>
<line x1="304.60" y1="521.50" x2="304.60" y2="524.50" stroke="#111" stroke-width="0.9"/>
<text x="304.60" y="536.00" font-size="8.5" text-anchor="middle" stroke="#231f20">0</text>
<line x1="332.58" y1="521.50" x2="332.58" y2="524.50" stroke="#111" stroke-width="0.9"/>
<text x="332.58" y="536.00" font-size="8.5" text-anchor="middle" stroke="#231f20">20</text>
<line x1="360.56" y1="521.50" x2="360.56" y2="524.50" stroke="#111" stroke-width="0.9"/>
<text x="360.56" y="536.00" font-size="8.5" text-anchor="middle" stroke="#231f20">40</text>
<line x1="388.54" y1="521.50" x2="388.54" y2="524.50" stroke="#111" stroke-width="0.9"/>
<text x="388.54" y="536.00" font-size="8.5" text-anchor="middle" stroke="#231f20">60</text>
<line x1="416.52" y1="521.50" x2="416.52" y2="524.50" stroke="#111" stroke-width="0.9"/>
<text x="416.52" y="536.00" font-size="8.5" text-anchor="middle" stroke="#231f20">80</text>
<text x="315.00" y="551.00" font-size="10.3" textLength="89.30" lengthAdjust="spacingAndGlyphs" stroke="#231f20">Time post transplant (days)</text>
<text x="281.90" y="467.40" font-size="10.6" text-anchor="middle" textLength="58.70" lengthAdjust="spacingAndGlyphs" transform="rotate(-90 281.90 467.40)" stroke="#231f20">hCD45+ cells (%)</text>
<text x="377.50" y="402.00" font-size="10" textLength="32.50" lengthAdjust="spacingAndGlyphs" stroke="#231f20">PDX04</text>
<line x1="375.50" y1="466.30" x2="407.00" y2="466.30" stroke="#c4c4c4" stroke-width="1.0" stroke-dasharray="10,2.5"/>
<line x1="375.50" y1="463.80" x2="375.50" y2="468.80" stroke="#c4c4c4" stroke-width="1.0"/>
<line x1="407.00" y1="463.80" x2="407.00" y2="468.80" stroke="#c4c4c4" stroke-width="1.0"/>
<polyline points="354.96,520.14 376.65,503.56 385.74,478.56 396.51,478.56 405.33,427.20" fill="none" stroke="#c41438" stroke-width="1.2" stroke-linejoin="round"/>
<circle cx="354.96" cy="520.14" r="1.1" fill="#9a1030"/>
<circle cx="376.65" cy="503.56" r="1.1" fill="#9a1030"/>
<circle cx="385.74" cy="478.56" r="1.1" fill="#9a1030"/>
<circle cx="396.51" cy="478.56" r="1.1" fill="#9a1030"/>
<circle cx="405.33" cy="427.20" r="1.1" fill="#9a1030"/>
<polyline points="354.96,520.14 376.65,512.26 385.74,498.40 396.51,480.74 405.33,431.01" fill="none" stroke="#c41438" stroke-width="1.2" stroke-linejoin="round"/>
<circle cx="354.96" cy="520.14" r="1.1" fill="#9a1030"/>
<circle cx="376.65" cy="512.26" r="1.1" fill="#9a1030"/>
<circle cx="385.74" cy="498.40" r="1.1" fill="#9a1030"/>
<circle cx="396.51" cy="480.74" r="1.1" fill="#9a1030"/>
<circle cx="405.33" cy="431.01" r="1.1" fill="#9a1030"/>
<polyline points="354.96,520.14 376.65,508.73 385.74,504.65 396.51,486.99 405.33,443.51" fill="none" stroke="#c41438" stroke-width="1.2" stroke-linejoin="round"/>
<circle cx="354.96" cy="520.14" r="1.1" fill="#9a1030"/>
<circle cx="376.65" cy="508.73" r="1.1" fill="#9a1030"/>
<circle cx="385.74" cy="504.65" r="1.1" fill="#9a1030"/>
<circle cx="396.51" cy="486.99" r="1.1" fill="#9a1030"/>
<circle cx="405.33" cy="443.51" r="1.1" fill="#9a1030"/>
<polyline points="354.96,520.14 376.65,506.55 385.74,499.76 396.51,483.45 405.33,469.32" fill="none" stroke="#c41438" stroke-width="1.2" stroke-linejoin="round"/>
<circle cx="354.96" cy="520.14" r="1.1" fill="#9a1030"/>
<circle cx="376.65" cy="506.55" r="1.1" fill="#9a1030"/>
<circle cx="385.74" cy="499.76" r="1.1" fill="#9a1030"/>
<circle cx="396.51" cy="483.45" r="1.1" fill="#9a1030"/>
<circle cx="405.33" cy="469.32" r="1.1" fill="#9a1030"/>
<polyline points="354.96,520.14 376.65,495.68 385.74,521.50 396.51,521.50 405.33,521.50" fill="none" stroke="#1e4a80" stroke-width="1.2" stroke-linejoin="round"/>
<circle cx="354.96" cy="520.14" r="1.1" fill="#163a66"/>
<circle cx="376.65" cy="495.68" r="1.1" fill="#163a66"/>
<circle cx="385.74" cy="521.50" r="1.1" fill="#163a66"/>
<circle cx="396.51" cy="521.50" r="1.1" fill="#163a66"/>
<circle cx="405.33" cy="521.50" r="1.1" fill="#163a66"/>
<polyline points="354.96,520.14 376.65,507.91 385.74,521.50" fill="none" stroke="#1e4a80" stroke-width="1.2" stroke-linejoin="round"/>
<circle cx="354.96" cy="520.14" r="1.1" fill="#163a66"/>
<circle cx="376.65" cy="507.91" r="1.1" fill="#163a66"/>
<circle cx="385.74" cy="521.50" r="1.1" fill="#163a66"/>
<rect x="353.66" y="518.84" width="2.60" height="2.60" fill="#1e4a80"/>
<line x1="307.80" y1="418.00" x2="320.70" y2="418.00" stroke="#a01c36" stroke-width="1.4"/>
<circle cx="314.20" cy="418.00" r="1.35" fill="#7a1226"/>
<line x1="307.80" y1="431.00" x2="320.70" y2="431.00" stroke="#1f4a78" stroke-width="1.4"/>
<circle cx="314.20" cy="431.00" r="1.35" fill="#0f2a48"/>
<text x="328.00" y="421.20" font-size="8.3" textLength="24.90" lengthAdjust="spacingAndGlyphs" stroke="#231f20">Vehicle</text>
<text x="328.00" y="434.30" font-size="8.3" textLength="40.70" lengthAdjust="spacingAndGlyphs" stroke="#231f20">OTSSP167</text>
<rect x="474.20" y="421.50" width="14.90" height="99.90" fill="#efb8ac"/>
<rect x="498.00" y="477.22" width="14.80" height="44.18" fill="#b8bfdc"/>
<circle cx="475.40" cy="421.80" r="1.45" fill="#b3122f"/>
<circle cx="479.50" cy="421.50" r="1.45" fill="#b3122f"/>
<circle cx="483.60" cy="421.60" r="1.45" fill="#b3122f"/>
<circle cx="487.90" cy="421.70" r="1.45" fill="#b3122f"/>
<circle cx="505.30" cy="472.20" r="1.45" fill="#1a3d6e"/>
<circle cx="505.30" cy="476.50" r="1.45" fill="#1a3d6e"/>
<circle cx="505.30" cy="485.00" r="1.45" fill="#1a3d6e"/>
<line x1="466.30" y1="418.00" x2="466.30" y2="522.00" stroke="#111" stroke-width="1.25"/>
<line x1="465.70" y1="521.40" x2="516.80" y2="521.40" stroke="#111" stroke-width="1.25"/>
<line x1="462.50" y1="521.40" x2="466.30" y2="521.40" stroke="#111" stroke-width="0.9"/>
<text x="459.20" y="524.40" font-size="8.5" text-anchor="end" stroke="#231f20">0</text>
<line x1="462.50" y1="471.20" x2="466.30" y2="471.20" stroke="#111" stroke-width="0.9"/>
<text x="459.20" y="474.20" font-size="8.5" text-anchor="end" stroke="#231f20">50</text>
<line x1="462.50" y1="421.00" x2="466.30" y2="421.00" stroke="#111" stroke-width="0.9"/>
<text x="459.20" y="424.00" font-size="8.5" text-anchor="end" stroke="#231f20">100</text>
<line x1="481.60" y1="521.40" x2="481.60" y2="524.60" stroke="#111" stroke-width="0.9"/>
<line x1="505.30" y1="521.40" x2="505.30" y2="524.60" stroke="#111" stroke-width="0.9"/>
<text x="486.10" y="534.00" font-size="8.6" text-anchor="end" textLength="28.50" lengthAdjust="spacingAndGlyphs" transform="rotate(-45 486.10 534.00)" stroke="#231f20">Vehicle</text>
<text x="509.80" y="534.00" font-size="8.6" text-anchor="end" textLength="45.00" lengthAdjust="spacingAndGlyphs" transform="rotate(-45 509.80 534.00)" stroke="#231f20">OTSSP167</text>
<line x1="481.20" y1="413.70" x2="504.80" y2="413.70" stroke="#333" stroke-width="1.0"/>
<text x="493.00" y="412.20" font-size="8.2" text-anchor="middle" stroke="#231f20">****</text>
<text transform="translate(437.70 466.00) rotate(-90) scale(0.7407 1)" font-size="10.3" text-anchor="middle" stroke="#231f20">hCD45<tspan font-size="6.39" dy="-3.4">+</tspan><tspan font-size="10.30" dy="3.4"> cells in BM (%)</tspan></text>
<text x="0.60" y="579.80" font-size="12" fill="#111" font-weight="bold" stroke="#111">G</text>
<rect x="55.80" y="618.70" width="12.50" height="84.00" fill="#efb8ac"/>
<rect x="106.50" y="632.87" width="11.60" height="69.83" fill="#b8bfdc"/>
<rect x="157.30" y="672.34" width="11.40" height="30.36" fill="#d2e6c4"/>
<circle cx="56.70" cy="611.90" r="1.35" fill="#b8163a"/>
<circle cx="56.70" cy="617.10" r="1.35" fill="#b8163a"/>
<circle cx="61.90" cy="612.50" r="1.35" fill="#b8163a"/>
<circle cx="61.90" cy="620.00" r="1.35" fill="#b8163a"/>
<circle cx="61.90" cy="624.40" r="1.35" fill="#b8163a"/>
<circle cx="61.90" cy="633.50" r="1.35" fill="#b8163a"/>
<circle cx="66.90" cy="611.00" r="1.35" fill="#b8163a"/>
<circle cx="66.90" cy="616.20" r="1.35" fill="#b8163a"/>
<circle cx="66.90" cy="619.60" r="1.35" fill="#b8163a"/>
<circle cx="66.90" cy="622.50" r="1.35" fill="#b8163a"/>
<circle cx="112.20" cy="627.50" r="1.35" fill="#1a3866"/>
<circle cx="107.30" cy="631.80" r="1.35" fill="#1a3866"/>
<circle cx="112.20" cy="633.00" r="1.35" fill="#1a3866"/>
<circle cx="117.10" cy="633.00" r="1.35" fill="#1a3866"/>
<circle cx="112.20" cy="638.80" r="1.35" fill="#1a3866"/>
<circle cx="159.80" cy="669.00" r="1.35" fill="#4fa84c"/>
<circle cx="165.10" cy="667.70" r="1.35" fill="#4fa84c"/>
<circle cx="163.00" cy="673.70" r="1.35" fill="#4fa84c"/>
<circle cx="163.00" cy="683.60" r="1.35" fill="#4fa84c"/>
<circle cx="76.20" cy="701.30" r="1.15" fill="#c81e3c"/>
<circle cx="78.60" cy="701.50" r="1.15" fill="#c81e3c"/>
<circle cx="81.00" cy="701.20" r="1.15" fill="#c81e3c"/>
<circle cx="83.40" cy="701.50" r="1.15" fill="#c81e3c"/>
<circle cx="85.80" cy="701.30" r="1.15" fill="#c81e3c"/>
<circle cx="77.40" cy="699.00" r="1.15" fill="#c81e3c"/>
<circle cx="79.80" cy="698.60" r="1.15" fill="#c81e3c"/>
<circle cx="82.20" cy="699.20" r="1.15" fill="#c81e3c"/>
<circle cx="84.60" cy="698.90" r="1.15" fill="#c81e3c"/>
<circle cx="79.20" cy="696.60" r="1.15" fill="#c81e3c"/>
<circle cx="126.20" cy="701.60" r="1.0" fill="#1f3f70"/>
<circle cx="128.60" cy="701.40" r="1.0" fill="#1f3f70"/>
<circle cx="131.00" cy="701.70" r="1.0" fill="#1f3f70"/>
<circle cx="133.40" cy="701.40" r="1.0" fill="#1f3f70"/>
<circle cx="135.80" cy="701.60" r="1.0" fill="#1f3f70"/>
<circle cx="128.00" cy="700.00" r="1.0" fill="#1f3f70"/>
<circle cx="131.80" cy="699.80" r="1.0" fill="#1f3f70"/>
<circle cx="176.50" cy="702.20" r="0.8" fill="#7cc47a"/>
<circle cx="179.50" cy="702.20" r="0.8" fill="#7cc47a"/>
<circle cx="182.50" cy="702.20" r="0.8" fill="#7cc47a"/>
<circle cx="185.50" cy="702.20" r="0.8" fill="#7cc47a"/>
<line x1="49.40" y1="597.00" x2="49.40" y2="703.30" stroke="#111" stroke-width="1.3"/>
<line x1="48.80" y1="702.70" x2="194.00" y2="702.70" stroke="#111" stroke-width="1.3"/>
<line x1="50.40" y1="702.70" x2="194.00" y2="702.70" stroke="#777" stroke-width="1.3" stroke-dasharray="0.8,1.6"/>
<line x1="46.40" y1="702.70" x2="49.40" y2="702.70" stroke="#111" stroke-width="0.9"/>
<text x="42.70" y="705.70" font-size="8.5" text-anchor="end" stroke="#231f20">0</text>
<line x1="46.40" y1="682.46" x2="49.40" y2="682.46" stroke="#111" stroke-width="0.9"/>
<text x="42.70" y="685.46" font-size="8.5" text-anchor="end" stroke="#231f20">20</text>
<line x1="46.40" y1="662.22" x2="49.40" y2="662.22" stroke="#111" stroke-width="0.9"/>
<text x="42.70" y="665.22" font-size="8.5" text-anchor="end" stroke="#231f20">40</text>
<line x1="46.40" y1="641.98" x2="49.40" y2="641.98" stroke="#111" stroke-width="0.9"/>
<text x="42.70" y="644.98" font-size="8.5" text-anchor="end" stroke="#231f20">60</text>
<line x1="46.40" y1="621.74" x2="49.40" y2="621.74" stroke="#111" stroke-width="0.9"/>
<text x="42.70" y="624.74" font-size="8.5" text-anchor="end" stroke="#231f20">80</text>
<line x1="46.40" y1="601.50" x2="49.40" y2="601.50" stroke="#111" stroke-width="0.9"/>
<text x="42.70" y="604.50" font-size="8.5" text-anchor="end" stroke="#231f20">100</text>
<text transform="translate(20.20 652.80) rotate(-90) scale(0.7166 1)" font-size="10.6" text-anchor="middle" stroke="#231f20">Human CD45<tspan font-size="6.57" dy="-3.5">+</tspan><tspan font-size="10.60" dy="3.5"> cells (%)</tspan></text>
<text x="54.10" y="592.70" font-size="10" fill="#c4213f" textLength="32.30" lengthAdjust="spacingAndGlyphs" stroke="#c4213f">PDX01</text>
<text x="104.60" y="592.40" font-size="10" fill="#2a5a8e" textLength="33.40" lengthAdjust="spacingAndGlyphs" stroke="#2a5a8e">PDX02</text>
<text x="154.80" y="592.40" font-size="10" fill="#62b95f" textLength="33.40" lengthAdjust="spacingAndGlyphs" stroke="#62b95f">PDX04</text>
<line x1="61.90" y1="606.20" x2="80.80" y2="606.20" stroke="#222" stroke-width="1.0"/>
<text x="71.35" y="604.60" font-size="8.2" text-anchor="middle" stroke="#231f20">****</text>
<line x1="112.20" y1="622.30" x2="130.60" y2="622.30" stroke="#222" stroke-width="1.0"/>
<text x="121.40" y="620.70" font-size="8.2" text-anchor="middle" stroke="#231f20">****</text>
<line x1="163.00" y1="661.00" x2="181.40" y2="661.00" stroke="#222" stroke-width="1.0"/>
<text x="172.20" y="659.40" font-size="8.2" text-anchor="middle" stroke="#231f20">****</text>
<text x="64.00" y="712.30" font-size="8.6" text-anchor="end" textLength="27.60" lengthAdjust="spacingAndGlyphs" transform="rotate(-45 64.00 712.30)" stroke="#231f20">Vehicle</text>
<text x="83.60" y="712.60" font-size="8.6" text-anchor="end" textLength="45.00" lengthAdjust="spacingAndGlyphs" transform="rotate(-45 83.60 712.60)" stroke="#231f20">OTSSP167</text>
<text x="114.30" y="712.30" font-size="8.6" text-anchor="end" textLength="27.60" lengthAdjust="spacingAndGlyphs" transform="rotate(-45 114.30 712.30)" stroke="#231f20">Vehicle</text>
<text x="133.20" y="712.60" font-size="8.6" text-anchor="end" textLength="45.00" lengthAdjust="spacingAndGlyphs" transform="rotate(-45 133.20 712.60)" stroke="#231f20">OTSSP167</text>
<text x="165.00" y="712.30" font-size="8.6" text-anchor="end" textLength="27.60" lengthAdjust="spacingAndGlyphs" transform="rotate(-45 165.00 712.30)" stroke="#231f20">Vehicle</text>
<text x="183.40" y="712.60" font-size="8.6" text-anchor="end" textLength="45.00" lengthAdjust="spacingAndGlyphs" transform="rotate(-45 183.40 712.60)" stroke="#231f20">OTSSP167</text>
<text x="251.60" y="579.60" font-size="12" fill="#111" font-weight="bold" stroke="#111">H</text>
<text x="307.20" y="618.60" font-size="8.8" textLength="28.00" lengthAdjust="spacingAndGlyphs" transform="rotate(-45 307.20 618.60)" stroke="#231f20">PDX01</text>
<text x="349.60" y="618.60" font-size="8.8" textLength="28.00" lengthAdjust="spacingAndGlyphs" transform="rotate(-45 349.60 618.60)" stroke="#231f20">PDX04</text>
<text x="298.50" y="631.20" font-size="7.6" text-anchor="middle" stroke="#231f20">–</text>
<text x="339.20" y="631.20" font-size="7.6" text-anchor="middle" stroke="#231f20">–</text>
<text x="316.20" y="632.00" font-size="8.6" text-anchor="middle" stroke="#231f20">+</text>
<text x="357.20" y="632.00" font-size="8.6" text-anchor="middle" stroke="#231f20">+</text>
<text x="370.60" y="631.30" font-size="8.6" textLength="82.70" lengthAdjust="spacingAndGlyphs" stroke="#231f20">OTSSP167 (100 nM)</text>
<text x="373.10" y="651.90" font-size="8.6" textLength="21.10" lengthAdjust="spacingAndGlyphs" stroke="#231f20">pJNK</text>
<text x="373.10" y="674.60" font-size="8.6" textLength="15.70" lengthAdjust="spacingAndGlyphs" stroke="#231f20">JNK</text>
<text x="373.10" y="697.30" font-size="8.6" textLength="22.50" lengthAdjust="spacingAndGlyphs" stroke="#231f20">HES1</text>
<text x="373.10" y="719.80" font-size="8.6" textLength="26.90" lengthAdjust="spacingAndGlyphs" stroke="#231f20">β-Actin</text>
<rect x="286.1" y="637.2" width="39.2" height="20.5" fill="#cbcbcb"/>
<rect x="307.30" y="637.2" width="18.00" height="20.5" fill="#acacac" opacity="0.85" filter="url(#bl2)"/>
<rect x="289.10" y="638.70" width="17.60" height="5.60" rx="2.50" fill="#000" opacity="1" filter="url(#bl)"/>
<rect x="288.10" y="648.10" width="18.60" height="5.80" rx="2.50" fill="#000" opacity="1" filter="url(#bl)"/>
<rect x="307.60" y="653.30" width="16.00" height="3.00" rx="1.50" fill="#8a8a8a" opacity="0.5" filter="url(#bl)"/>
<rect x="330.5" y="637.2" width="38.0" height="20.5" fill="#c2c2c2"/>
<rect x="349.00" y="637.2" width="3.50" height="20.5" fill="#d6d6d6" opacity="0.8" filter="url(#bl2)"/>
<rect x="333.30" y="639.60" width="14.80" height="3.20" rx="1.60" fill="#262626" opacity="1" filter="url(#bl)"/>
<rect x="333.30" y="652.20" width="15.00" height="3.00" rx="1.50" fill="#9a9a9a" opacity="0.7" filter="url(#bl)"/>
<rect x="352.00" y="652.20" width="14.00" height="3.00" rx="1.50" fill="#a8a8a8" opacity="0.6" filter="url(#bl)"/>
<rect x="286.1" y="661.5" width="39.2" height="20.4" fill="#d9d9d9"/>
<rect x="290.60" y="669.10" width="12.80" height="2.00" rx="1.00" fill="#8c8c8c" opacity="0.9" filter="url(#bl)"/>
<rect x="288.90" y="673.70" width="16.20" height="3.40" rx="1.70" fill="#1e1e1e" opacity="1" filter="url(#bl)"/>
<rect x="308.90" y="668.90" width="15.50" height="3.00" rx="1.50" fill="#1e1e1e" opacity="1" filter="url(#bl)"/>
<rect x="308.90" y="674.30" width="15.50" height="2.20" rx="1.10" fill="#8a8a8a" opacity="0.9" filter="url(#bl)"/>
<rect x="330.5" y="661.5" width="38.0" height="20.4" fill="#e2e2e2"/>
<rect x="333.20" y="675.60" width="14.80" height="3.40" rx="1.70" fill="#222" opacity="1" filter="url(#bl)"/>
<rect x="352.50" y="670.90" width="13.00" height="1.60" rx="0.80" fill="#cfcfcf" opacity="0.8" filter="url(#bl)"/>
<rect x="286.1" y="685.5" width="39.2" height="20.4" fill="#d0d0d0"/>
<rect x="289.10" y="686.25" width="17.00" height="4.50" rx="2.25" fill="#6a6a6a" opacity="0.75" filter="url(#bl)"/>
<rect x="288.90" y="690.30" width="17.40" height="4.20" rx="2.10" fill="#111" opacity="1" filter="url(#bl)"/>
<rect x="288.90" y="697.40" width="17.40" height="4.00" rx="2.00" fill="#1e1e1e" opacity="1" filter="url(#bl)"/>
<rect x="307.90" y="690.60" width="16.50" height="3.80" rx="1.90" fill="#555" opacity="0.95" filter="url(#bl)"/>
<rect x="307.90" y="697.50" width="16.50" height="3.80" rx="1.90" fill="#555" opacity="0.95" filter="url(#bl)"/>
<rect x="307.90" y="686.80" width="16.00" height="3.00" rx="1.50" fill="#a0a0a0" opacity="0.6" filter="url(#bl)"/>
<rect x="330.5" y="685.5" width="38.0" height="20.4" fill="#c0c0c0"/>
<rect x="349.10" y="685.5" width="3.60" height="20.4" fill="#cecece" opacity="0.7" filter="url(#bl2)"/>
<rect x="333.00" y="687.00" width="16.00" height="4.00" rx="2.00" fill="#a0a0a0" opacity="0.8" filter="url(#bl)"/>
<rect x="333.50" y="701.30" width="16.00" height="3.60" rx="1.80" fill="#707070" opacity="0.95" filter="url(#bl)"/>
<rect x="353.00" y="701.80" width="13.00" height="3.00" rx="1.50" fill="#8a8a8a" opacity="0.85" filter="url(#bl)"/>
<rect x="352.50" y="689.50" width="14.00" height="4.00" rx="2.00" fill="#b0b0b0" opacity="0.6" filter="url(#bl)"/>
<rect x="286.1" y="709.8" width="39.2" height="13.9" fill="#cacaca"/>
<rect x="286.10" y="713.60" width="39.20" height="8.00" rx="2.50" fill="#000" opacity="1" filter="url(#bl)"/>
<rect x="304.30" y="714.10" width="3.00" height="5.00" rx="2.50" fill="#000" opacity="1" filter="url(#bl)"/>
<rect x="330.5" y="709.8" width="38.0" height="13.9" fill="#cacaca"/>
<rect x="330.50" y="713.45" width="20.00" height="7.90" rx="2.50" fill="#000" opacity="1" filter="url(#bl)"/>
<rect x="348.00" y="714.30" width="20.50" height="6.40" rx="2.50" fill="#000" opacity="1" filter="url(#bl)"/>
</svg></body></html>
